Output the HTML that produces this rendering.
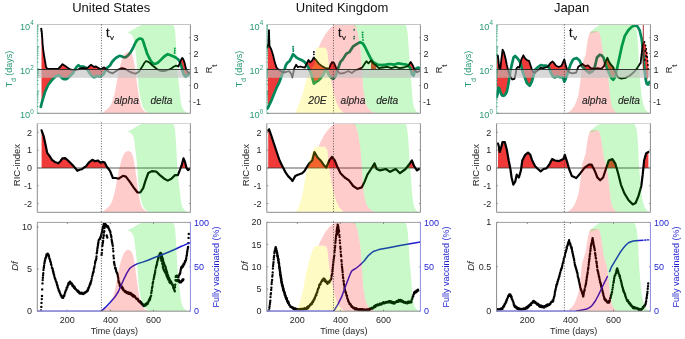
<!DOCTYPE html>
<html><head><meta charset="utf-8"><style>
html,body{margin:0;padding:0;background:#fff;}
svg{display:block;font-family:"Liberation Sans",sans-serif;}
</style></head><body>
<svg width="685" height="339" viewBox="0 0 685 339">
<defs><clipPath id="c00"><rect x="37.3" y="24.5" width="153.1" height="88.8"/></clipPath><clipPath id="c01"><rect x="37.3" y="123.5" width="153.1" height="88.8"/></clipPath><clipPath id="c02"><rect x="37.3" y="222.4" width="153.1" height="88.8"/></clipPath><clipPath id="ab0"><rect x="37.3" y="24.5" width="153.1" height="45.0"/></clipPath><clipPath id="be0"><rect x="37.3" y="69.5" width="153.1" height="43.8"/></clipPath><clipPath id="mab0"><rect x="37.3" y="123.5" width="153.1" height="44.5"/></clipPath><clipPath id="c10"><rect x="266.8" y="24.5" width="153.6" height="88.8"/></clipPath><clipPath id="c11"><rect x="266.8" y="123.5" width="153.6" height="88.8"/></clipPath><clipPath id="c12"><rect x="266.8" y="222.4" width="153.6" height="88.8"/></clipPath><clipPath id="ab1"><rect x="266.8" y="24.5" width="153.6" height="45.0"/></clipPath><clipPath id="be1"><rect x="266.8" y="69.5" width="153.6" height="43.8"/></clipPath><clipPath id="mab1"><rect x="266.8" y="123.5" width="153.6" height="44.5"/></clipPath><clipPath id="c20"><rect x="496.6" y="24.5" width="153.8" height="88.8"/></clipPath><clipPath id="c21"><rect x="496.6" y="123.5" width="153.8" height="88.8"/></clipPath><clipPath id="c22"><rect x="496.6" y="222.4" width="153.8" height="88.8"/></clipPath><clipPath id="ab2"><rect x="496.6" y="24.5" width="153.8" height="45.0"/></clipPath><clipPath id="be2"><rect x="496.6" y="69.5" width="153.8" height="43.8"/></clipPath><clipPath id="mab2"><rect x="496.6" y="123.5" width="153.8" height="44.5"/></clipPath><clipPath id="bb0"><polygon points="41.3,118.3 41.3,28.6 41.8,33.0 42.3,38.0 42.6,44.0 43.5,52.0 44.3,57.0 45.2,62.0 46.0,66.8 47.2,68.7 50.0,68.8 54.0,68.8 58.4,68.6 60.5,66.5 62.5,64.2 64.5,65.5 67.3,67.4 70.2,69.4 73.0,70.2 76.0,70.0 78.0,69.5 80.0,68.5 83.0,68.0 85.5,68.6 88.0,67.5 90.9,64.8 93.8,66.8 96.0,66.5 98.5,68.0 100.5,69.4 102.0,68.6 103.8,67.4 105.0,68.0 106.2,69.7 109.2,72.1 112.7,73.3 115.5,71.4 118.5,69.5 121.8,68.2 125.3,68.9 129.4,71.6 132.5,72.8 135.7,73.7 139.1,71.6 141.0,68.5 142.6,66.1 144.3,63.0 146.0,61.2 148.0,61.7 150.0,63.0 152.5,65.5 154.4,67.0 157.1,69.2 159.5,70.5 161.8,71.0 164.0,71.0 166.5,70.5 169.0,69.5 171.2,68.5 173.6,66.8 176.0,65.6 178.3,66.5 179.3,64.5 180.1,62.4 181.2,59.5 182.2,58.0 183.0,58.6 184.0,61.0 184.8,63.6 186.0,68.9 187.2,71.0 188.5,73.0 189.5,72.5 189.5,118.3"/></clipPath><clipPath id="xr0"><rect x="41.3" y="0" width="148.2" height="339"/></clipPath><clipPath id="bb1"><polygon points="267.4,118.3 267.4,47.5 268.3,44.0 268.9,30.3 269.2,38.0 269.5,46.0 271.3,49.4 273.1,55.3 274.8,62.4 276.6,67.7 277.9,68.9 280.0,70.5 283.4,72.5 286.0,72.0 289.0,71.2 291.0,73.5 292.4,77.4 293.5,72.0 294.3,68.3 296.1,64.8 297.8,67.1 300.2,66.5 302.6,67.1 304.9,67.7 306.7,63.6 308.5,60.0 310.2,62.4 312.0,60.6 313.2,58.5 313.9,57.5 315.0,59.0 316.0,60.0 318.8,63.6 322.3,66.4 325.0,67.8 327.0,68.3 329.2,68.5 330.5,65.0 332.0,62.2 334.0,62.9 336.1,67.8 337.5,71.0 340.0,73.7 344.2,73.0 348.3,71.0 351.8,73.0 355.3,70.3 359.4,68.9 362.2,67.5 364.5,64.0 366.4,61.2 368.4,63.3 371.2,60.5 373.3,63.3 376.1,65.4 378.8,68.2 383.0,67.5 387.2,66.8 391.3,68.2 395.5,66.8 399.6,68.2 403.8,67.5 408.0,66.1 410.7,61.9 412.8,65.4 414.9,70.3 417.0,72.3 419.5,71.0 419.5,118.3"/></clipPath><clipPath id="xr1"><rect x="267.4" y="0" width="152.10000000000002" height="339"/></clipPath><clipPath id="bb2"><polygon points="496.8,118.3 496.8,55.3 497.8,55.3 498.3,59.4 499.2,67.7 500.3,69.1 501.2,60.8 502.6,49.7 504.0,52.5 505.4,58.0 506.8,65.0 508.2,70.5 510.3,76.1 512.3,79.5 514.4,78.8 515.8,73.3 516.5,68.4 517.9,67.0 519.3,67.7 521.4,59.4 523.4,55.3 524.8,58.0 526.9,60.1 529.0,60.8 530.4,65.0 531.8,69.1 533.1,71.9 535.2,72.6 536.6,71.2 538.7,69.8 540.8,67.7 542.8,68.4 544.9,67.7 547.7,67.0 550.5,62.9 552.6,61.5 553.9,62.9 556.0,65.7 558.8,67.0 561.6,65.7 563.7,60.8 564.3,59.4 565.7,65.0 567.1,69.8 569.9,72.6 572.7,73.3 576.1,72.6 578.3,66.8 582.5,64.0 585.3,66.1 588.0,65.4 590.8,68.2 594.3,68.9 597.7,68.2 601.2,68.9 604.0,66.1 606.1,60.5 607.4,57.8 608.8,61.2 610.9,64.7 613.0,66.8 615.1,71.6 617.8,77.2 621.3,78.6 625.5,77.9 629.6,75.8 633.8,72.3 636.6,68.9 639.3,64.7 640.6,63.2 641.5,55.0 642.5,47.0 643.5,43.0 643.5,118.3"/></clipPath><clipPath id="xr2"><rect x="496.8" y="0" width="146.7" height="339"/></clipPath></defs>
<rect width="685" height="339" fill="#fff"/>
<g clip-path="url(#c00)">
<g clip-path="url(#xr0)"><polygon clip-path="url(#bb0)" points="40.8,19.5 40.8,106.9 42.0,102.0 43.5,97.1 45.0,92.0 46.9,87.6 48.5,84.5 50.3,82.2 52.0,80.0 53.7,78.1 56.0,76.2 58.4,75.2 60.5,76.5 62.5,78.4 64.3,79.2 65.9,79.2 67.5,78.3 69.3,76.8 71.5,74.5 73.3,72.7 74.5,70.0 76.7,66.8 78.5,65.2 80.0,66.5 83.2,66.5 85.6,67.5 87.9,70.3 89.5,73.0 91.5,75.6 93.7,77.1 95.5,76.8 97.4,75.8 99.0,76.5 100.3,76.8 101.5,75.8 103.3,74.5 105.6,70.3 107.5,67.5 110.0,65.5 112.0,62.0 114.2,59.5 116.5,57.5 119.5,55.8 122.0,56.5 124.0,57.3 125.9,57.1 128.0,55.5 130.6,52.4 133.0,48.0 135.3,43.0 137.0,40.3 138.9,38.8 140.5,38.5 142.4,39.4 143.6,42.5 144.8,46.5 146.0,50.0 147.1,53.6 149.0,57.5 150.7,60.7 152.5,62.8 154.2,63.9 156.0,63.6 157.8,62.8 160.6,60.1 164.2,56.5 167.7,54.2 170.6,55.3 173.6,56.5 176.0,57.7 178.3,59.5 180.1,62.4 181.5,66.5 182.5,70.7 184.0,75.0 185.5,76.5 187.8,75.0 189.5,73.5 189.5,19.5" fill="#f03a3a"/></g>
<polyline points="40.8,106.9 42.0,102.0 43.5,97.1 45.0,92.0 46.9,87.6 48.5,84.5 50.3,82.2 52.0,80.0 53.7,78.1 56.0,76.2 58.4,75.2 60.5,76.5 62.5,78.4 64.3,79.2 65.9,79.2 67.5,78.3 69.3,76.8 71.5,74.5 73.3,72.7 74.5,70.0 76.7,66.8 78.5,65.2 80.0,66.5 83.2,66.5 85.6,67.5 87.9,70.3 89.5,73.0 91.5,75.6 93.7,77.1 95.5,76.8 97.4,75.8 99.0,76.5 100.3,76.8 101.5,75.8 103.3,74.5 105.6,70.3 107.5,67.5 110.0,65.5 112.0,62.0 114.2,59.5 116.5,57.5 119.5,55.8 122.0,56.5 124.0,57.3 125.9,57.1 128.0,55.5 130.6,52.4 133.0,48.0 135.3,43.0 137.0,40.3 138.9,38.8 140.5,38.5 142.4,39.4 143.6,42.5 144.8,46.5 146.0,50.0 147.1,53.6 149.0,57.5 150.7,60.7 152.5,62.8 154.2,63.9 156.0,63.6 157.8,62.8 160.6,60.1 164.2,56.5 167.7,54.2 170.6,55.3 173.6,56.5 176.0,57.7 178.3,59.5 180.1,62.4 181.5,66.5 182.5,70.7 184.0,75.0 185.5,76.5 187.8,75.0 189.5,73.5" fill="none" stroke="#00885a" stroke-width="2.7" stroke-linejoin="round" stroke-linecap="round" />
<path d="M174.8 48.5h0M174.8 50.8h0M174.6 53.0h0" stroke="#00885a" stroke-width="1.9" stroke-linecap="round"/>
<polyline points="41.3,28.6 41.8,33.0 42.3,38.0 42.6,44.0 43.5,52.0 44.3,57.0 45.2,62.0 46.0,66.8 47.2,68.7 50.0,68.8 54.0,68.8 58.4,68.6 60.5,66.5 62.5,64.2 64.5,65.5 67.3,67.4 70.2,69.4 73.0,70.2 76.0,70.0 78.0,69.5 80.0,68.5 83.0,68.0 85.5,68.6 88.0,67.5 90.9,64.8 93.8,66.8 96.0,66.5 98.5,68.0 100.5,69.4 102.0,68.6 103.8,67.4 105.0,68.0 106.2,69.7 109.2,72.1 112.7,73.3 115.5,71.4 118.5,69.5 121.8,68.2 125.3,68.9 129.4,71.6 132.5,72.8 135.7,73.7 139.1,71.6 141.0,68.5 142.6,66.1 144.3,63.0 146.0,61.2 148.0,61.7 150.0,63.0 152.5,65.5 154.4,67.0 157.1,69.2 159.5,70.5 161.8,71.0 164.0,71.0 166.5,70.5 169.0,69.5 171.2,68.5 173.6,66.8 176.0,65.6 178.3,66.5 179.3,64.5 180.1,62.4 181.2,59.5 182.2,58.0 183.0,58.6 184.0,61.0 184.8,63.6 186.0,68.9 187.2,71.0 188.5,73.0 189.5,72.5" fill="none" stroke="#000" stroke-width="1.8" stroke-linejoin="round" stroke-linecap="round" />
<path d="M41.3 28.8h0M41.5 31.0h0M41.7 33.5h0M41.9 36.0h0" stroke="#000" stroke-width="1.8" stroke-linecap="round"/>
<polygon points="101.0,113.3 102.0,112.9 106.0,110.2 110.1,106.2 112.3,101.8 114.1,95.5 115.5,89.3 116.8,81.9 118.2,75.1 119.5,68.5 121.0,62.7 122.2,59.1 123.5,56.0 124.8,53.8 126.5,52.4 128.1,51.9 130.0,52.5 131.6,53.8 133.0,57.4 134.2,63.1 135.2,69.8 136.1,76.5 137.2,84.9 138.3,92.5 139.6,100.0 141.0,106.2 143.0,109.7 145.0,111.5 148.0,112.9 151.0,113.3" fill="#ff0000" fill-opacity="0.2"/>
<polygon points="127.5,32.5 130.0,31.2 132.9,29.8 136.9,27.2 141.0,25.2 144.0,24.5 172.8,24.5 174.7,28.1 175.3,33.4 175.9,42.3 176.5,52.9 177.0,62.7 177.5,71.6 178.3,79.6 179.1,86.7 179.8,92.0 180.6,100.0 181.6,105.3 182.6,108.4 184.0,110.6 185.6,112.1 188.0,113.3 151.0,113.3 148.0,112.9 146.5,111.5 144.5,109.7 142.5,106.2 140.8,100.0 139.5,92.9 138.5,84.9 137.8,76.5 137.2,68.0 136.2,57.4 135.2,49.4 134.0,39.6 132.4,35.6 130.0,33.4" fill="#00e000" fill-opacity="0.21"/>
<rect x="37.3" y="69.5" width="153.1" height="8.3" fill="#c0c0c0" fill-opacity="0.62"/>
<line x1="37.3" y1="69.5" x2="190.39999999999998" y2="69.5" stroke="#222" stroke-width="0.9"/>
</g>
<g clip-path="url(#c01)">
<polygon clip-path="url(#mab0)" points="41.6,168.0 41.6,130.4 43.7,136.3 45.8,146.0 47.2,152.9 49.3,155.7 52.0,159.8 54.8,161.9 58.3,163.3 60.4,161.2 62.4,158.4 65.2,158.2 68.0,160.5 70.8,163.3 73.5,166.1 75.6,168.5 77.4,170.8 79.5,169.8 81.7,169.3 84.0,167.5 86.0,166.4 88.8,162.6 92.3,159.8 95.0,161.2 97.8,160.5 100.6,162.6 102.7,161.9 104.7,162.6 106.8,166.8 109.0,169.5 110.0,170.8 112.9,178.0 115.8,178.0 118.7,178.7 123.0,175.8 125.9,176.6 130.2,182.3 134.6,188.8 137.5,192.5 140.3,192.5 143.2,188.1 145.4,180.9 148.3,173.0 151.9,171.1 156.2,171.5 159.9,175.1 164.2,178.7 167.8,180.6 171.4,178.7 175.0,175.1 177.9,175.1 180.1,169.3 181.5,165.7 183.5,158.4 185.0,162.0 186.5,168.0 188.0,170.0 189.5,169.0 189.5,168.0" fill="#f03a3a"/>
<line x1="37.3" y1="168.0" x2="190.39999999999998" y2="168.0" stroke="#333" stroke-width="0.8"/>
<polyline points="41.6,130.4 43.7,136.3 45.8,146.0 47.2,152.9 49.3,155.7 52.0,159.8 54.8,161.9 58.3,163.3 60.4,161.2 62.4,158.4 65.2,158.2 68.0,160.5 70.8,163.3 73.5,166.1 75.6,168.5 77.4,170.8 79.5,169.8 81.7,169.3 84.0,167.5 86.0,166.4 88.8,162.6 92.3,159.8 95.0,161.2 97.8,160.5 100.6,162.6 102.7,161.9 104.7,162.6 106.8,166.8 109.0,169.5 110.0,170.8 112.9,178.0 115.8,178.0 118.7,178.7 123.0,175.8 125.9,176.6 130.2,182.3 134.6,188.8 137.5,192.5 140.3,192.5 143.2,188.1 145.4,180.9 148.3,173.0 151.9,171.1 156.2,171.5 159.9,175.1 164.2,178.7 167.8,180.6 171.4,178.7 175.0,175.1 177.9,175.1 180.1,169.3 181.5,165.7 183.5,158.4 185.0,162.0 186.5,168.0 188.0,170.0 189.5,169.0" fill="none" stroke="#000" stroke-width="2.2" stroke-linejoin="round" stroke-linecap="round" />
<polygon points="101.0,212.3 102.0,211.9 106.0,209.2 110.1,205.2 112.3,200.8 114.1,194.5 115.5,188.3 116.8,180.9 118.2,174.1 119.5,167.5 121.0,161.7 122.2,158.1 123.5,155.0 124.8,152.8 126.5,151.4 128.1,150.9 130.0,151.5 131.6,152.8 133.0,156.4 134.2,162.1 135.2,168.8 136.1,175.5 137.2,183.9 138.3,191.5 139.6,199.0 141.0,205.2 143.0,208.7 145.0,210.5 148.0,211.9 151.0,212.3" fill="#ff0000" fill-opacity="0.2"/>
<polygon points="127.5,131.5 130.0,130.2 132.9,128.8 136.9,126.2 141.0,124.2 144.0,123.5 172.8,123.5 174.7,127.1 175.3,132.4 175.9,141.3 176.5,151.9 177.0,161.7 177.5,170.6 178.3,178.6 179.1,185.7 179.8,191.0 180.6,199.0 181.6,204.3 182.6,207.4 184.0,209.6 185.6,211.1 188.0,212.3 151.0,212.3 148.0,211.9 146.5,210.5 144.5,208.7 142.5,205.2 140.8,199.0 139.5,191.9 138.5,183.9 137.8,175.5 137.2,167.0 136.2,156.4 135.2,148.4 134.0,138.6 132.4,134.6 130.0,132.4" fill="#00e000" fill-opacity="0.21"/>
</g>
<g clip-path="url(#c02)">
<path d="M41.1 310.5h0M41.3 306.9h0M41.5 302.9h0M41.8 299.1h0M42.0 296.0h0M42.2 289.4h0M42.5 283.4h0M42.7 280.1h0M42.9 277.8h0M43.1 275.3h0M43.3 273.2h0M43.5 270.0h0M43.7 268.1h0M43.9 267.2h0M44.1 265.4h0M44.4 263.3h0M44.6 262.7h0M44.8 261.2h0M45.0 260.3h0M45.2 259.7h0M45.4 258.2h0M45.9 257.7h0M46.1 256.7h0M46.3 255.6h0M46.5 254.4h0M46.9 254.6h0M47.6 253.6h0M47.8 254.6h0M48.1 254.2h0M48.3 255.5h0M48.8 255.3h0M49.0 256.8h0M49.4 258.5h0M49.7 259.0h0M50.1 260.3h0M50.3 261.6h0M50.8 262.3h0M51.0 263.9h0M51.4 265.1h0M51.9 267.4h0M52.1 268.0h0M52.6 268.7h0M52.8 269.9h0M53.0 271.0h0M53.2 272.4h0M53.4 272.0h0M53.7 273.4h0M53.9 274.5h0M54.1 275.0h0M54.3 276.2h0M54.8 278.0h0M55.2 279.0h0M55.4 279.5h0M55.6 280.3h0M56.0 281.6h0M56.5 282.3h0M56.7 282.9h0M56.9 284.2h0M57.1 284.9h0M57.5 285.4h0M57.7 287.0h0M57.9 287.8h0M58.2 288.5h0M58.4 289.0h0M58.6 289.8h0M58.8 290.4h0M59.3 290.9h0M59.5 292.0h0M59.9 293.1h0M60.2 293.7h0M60.4 294.2h0M60.8 295.2h0M61.3 295.4h0M61.5 296.2h0M61.7 297.1h0M62.1 297.4h0M62.4 296.7h0M62.6 297.8h0M63.2 297.8h0M63.4 296.5h0M63.9 295.6h0M64.3 295.8h0M64.5 294.7h0M64.9 293.1h0M65.2 292.5h0M65.6 291.0h0M66.3 289.7h0M66.5 289.3h0M66.7 287.7h0M67.2 287.5h0M67.4 286.9h0M67.6 286.1h0M67.8 285.5h0M68.3 283.9h0M68.5 283.3h0M68.7 284.4h0M69.0 282.9h0M69.2 282.5h0M69.7 283.0h0M70.1 281.7h0M70.3 282.5h0M70.7 282.8h0M71.2 283.8h0M71.6 283.6h0M71.8 284.3h0M72.0 283.8h0M72.4 285.8h0M72.7 284.9h0M72.9 285.4h0M73.1 286.2h0M73.3 286.7h0M73.6 287.1h0M73.8 286.2h0M74.0 287.3h0M74.2 287.9h0M74.4 286.8h0M74.6 288.0h0M74.8 288.5h0M75.0 288.0h0M75.5 288.9h0M76.1 289.5h0M76.5 290.1h0M77.1 290.4h0M77.4 291.3h0M77.6 290.6h0M77.8 291.2h0M78.0 290.6h0M78.2 291.9h0M78.4 291.5h0M78.9 291.8h0M79.3 293.2h0M79.5 292.4h0M80.0 292.6h0M80.2 293.5h0M80.6 293.2h0M81.1 293.1h0M81.5 293.6h0M81.8 292.8h0M82.2 293.5h0M82.6 293.8h0M82.8 293.4h0M83.1 294.0h0M83.3 293.5h0M83.7 293.2h0M83.9 293.6h0M84.1 293.1h0M84.6 292.4h0M84.8 293.0h0M85.2 292.3h0M85.8 292.3h0M86.5 291.5h0M86.7 291.1h0M87.1 291.4h0M87.5 291.0h0M87.7 289.5h0M87.9 290.2h0M88.2 289.2h0M88.4 287.9h0M88.6 288.3h0M89.1 286.9h0M89.5 285.7h0M89.7 285.0h0M90.1 283.5h0M90.4 284.2h0M90.6 283.2h0M90.8 282.0h0M91.0 281.4h0M91.4 280.6h0M91.7 278.8h0M92.1 276.6h0M92.6 275.1h0M92.8 273.7h0M93.0 273.0h0M93.2 272.3h0M93.5 271.9h0M93.7 271.0h0M93.9 269.0h0M94.1 268.5h0M94.3 267.6h0M94.6 266.1h0M95.0 263.8h0M95.2 262.3h0M95.4 261.3h0M95.9 259.9h0M96.1 259.4h0M96.3 258.4h0M96.5 256.4h0M96.7 253.3h0M97.0 252.4h0M97.2 250.5h0M97.4 248.5h0M97.6 247.4h0M97.8 246.5h0M98.0 245.0h0M98.2 243.4h0M98.4 242.4h0M98.6 240.8h0M99.0 239.6h0M99.5 239.2h0M99.9 239.0h0M100.1 238.0h0M100.6 236.7h0M101.0 237.2h0M101.2 235.3h0M101.4 234.5h0M101.6 233.8h0M101.9 232.5h0M102.1 231.8h0M102.3 230.5h0M102.5 229.3h0M102.7 228.6h0M102.9 228.2h0M103.1 226.6h0M103.4 226.1h0M103.6 225.1h0M103.8 224.3h0M104.0 222.9h0M104.2 224.3h0M104.4 223.8h0M104.6 224.5h0M105.1 224.0h0M105.5 224.8h0M105.9 224.6h0M106.1 225.5h0M106.3 225.9h0M107.0 225.8h0M107.2 226.9h0M107.6 225.9h0M108.0 227.4h0M108.2 226.8h0M108.7 228.1h0M108.9 228.8h0M109.3 229.6h0M109.5 230.2h0M109.7 230.8h0M110.2 231.2h0M110.4 232.5h0M110.8 234.6h0M111.0 235.2h0M111.2 236.3h0M111.4 237.1h0M111.6 239.4h0M111.8 240.4h0M112.0 241.9h0M112.2 242.4h0M112.4 243.9h0M112.8 245.8h0M113.0 248.6h0M113.3 251.3h0M113.5 255.7h0M113.8 258.3h0M114.0 262.0h0M114.2 263.0h0M114.4 264.2h0M114.7 265.4h0M115.1 267.9h0M115.3 268.6h0M115.5 267.9h0M115.8 269.0h0M116.0 270.0h0M116.2 270.9h0M116.6 272.3h0M117.1 272.9h0M117.3 273.6h0M117.5 274.5h0M117.7 274.9h0M117.9 276.7h0M118.1 277.3h0M118.3 278.7h0M118.5 280.8h0M118.7 281.9h0M118.9 282.5h0M119.1 282.1h0M119.3 283.0h0M119.6 283.9h0M119.8 285.4h0M120.0 286.2h0M120.6 286.6h0M120.8 285.7h0M121.2 287.3h0M121.4 286.3h0M121.6 286.8h0M122.1 287.0h0M122.3 288.5h0M122.5 288.0h0M122.9 288.2h0M123.1 289.3h0M123.3 290.0h0M123.5 289.5h0M123.8 290.4h0M124.4 290.8h0M124.6 291.3h0M125.0 291.8h0M125.4 292.0h0M125.7 291.1h0M125.9 291.7h0M126.3 292.4h0M126.7 292.7h0M126.9 292.2h0M127.2 292.7h0M127.4 293.2h0M128.0 292.4h0M128.4 293.2h0M128.9 292.6h0M129.1 293.9h0M129.5 293.2h0M129.9 294.0h0M130.2 292.9h0M130.4 293.9h0M130.6 293.1h0M130.8 293.5h0M131.0 294.5h0M131.2 293.5h0M131.7 294.4h0M132.1 295.4h0M132.7 294.8h0M132.9 296.2h0M133.1 295.5h0M133.4 295.9h0M133.8 295.4h0M134.0 296.2h0M134.4 295.9h0M134.6 296.9h0M135.1 296.5h0M135.3 297.3h0M135.9 298.1h0M136.3 298.7h0M136.7 298.5h0M137.0 298.9h0M137.4 298.6h0M137.6 299.6h0M138.0 300.2h0M138.2 299.4h0M138.4 300.8h0M138.8 301.2h0M139.5 301.7h0M139.9 302.0h0M140.1 301.3h0M140.3 302.4h0M140.7 302.8h0M141.2 303.3h0M141.4 302.4h0M141.8 304.1h0M142.0 303.7h0M142.2 304.5h0M142.8 304.7h0M143.3 304.4h0M143.5 305.7h0M143.9 306.0h0M144.3 305.3h0M144.8 304.6h0M145.2 305.0h0M145.4 305.5h0M145.8 304.5h0M146.1 303.9h0M146.3 304.8h0M146.7 303.3h0M147.2 303.8h0M147.4 302.6h0M147.6 303.7h0M148.1 302.8h0M148.3 301.6h0M148.7 301.3h0M148.9 300.3h0M149.4 299.3h0M149.6 300.3h0M149.8 299.5h0M150.0 297.9h0M150.2 298.7h0M150.5 297.1h0M150.7 296.6h0M151.1 295.7h0M151.3 292.9h0M151.6 291.2h0M151.8 290.2h0M152.0 288.1h0M152.2 287.5h0M152.5 286.3h0M152.7 283.7h0M152.9 282.5h0M153.1 281.8h0M153.6 279.2h0M154.0 277.4h0M154.2 276.5h0M154.4 275.1h0M154.8 273.9h0M155.1 272.3h0M155.3 270.5h0M155.8 268.1h0M156.0 267.7h0M156.2 266.0h0M156.6 265.4h0M156.9 264.3h0M157.1 262.7h0M157.3 261.7h0M157.8 260.1h0M158.0 259.4h0M158.2 258.2h0M158.4 257.6h0M158.6 256.8h0M158.8 256.2h0M159.1 255.5h0M159.5 254.9h0M159.9 253.5h0M160.3 254.0h0M160.6 253.0h0M161.0 253.1h0M161.2 254.8h0M161.5 254.2h0M161.7 255.5h0M161.9 256.3h0M162.2 257.6h0M162.6 258.3h0M162.8 259.2h0M163.1 260.2h0M163.3 261.7h0M163.5 262.2h0M164.0 263.3h0M164.2 264.3h0M164.4 265.0h0M164.8 265.5h0M165.1 266.6h0M165.5 266.8h0M165.7 267.7h0M165.9 269.0h0M166.3 270.0h0M166.6 271.2h0M166.8 271.8h0M167.0 272.3h0M167.2 272.9h0M167.5 274.8h0M167.7 275.6h0M167.9 275.1h0M168.1 276.0h0M168.4 277.1h0M168.8 277.7h0M169.3 278.8h0M169.7 279.6h0M169.9 280.2h0M170.3 281.1h0M170.8 282.3h0M171.0 281.5h0M171.2 283.1h0M171.4 282.2h0M171.6 283.0h0M171.9 283.9h0M172.1 284.4h0M172.6 284.5h0M172.8 285.2h0M173.0 285.7h0M173.2 287.0h0M173.4 287.9h0M173.9 288.0h0M174.1 289.8h0M174.6 290.4h0M174.8 291.3h0M175.0 287.3h0M175.2 284.8h0M175.5 280.1h0M175.7 276.9h0M175.9 276.3h0M176.3 275.9h0M176.7 275.7h0M177.2 276.3h0M177.6 276.9h0M178.1 276.7h0M178.5 276.9h0M178.8 275.8h0M179.2 275.2h0M179.7 274.0h0M180.1 273.4h0M180.3 272.2h0M180.6 270.8h0M180.8 269.6h0M181.0 268.6h0M181.2 267.8h0M181.6 267.0h0M182.1 267.5h0M182.3 266.3h0M182.5 266.9h0M182.7 265.8h0M183.1 266.2h0M183.4 264.5h0M183.8 263.7h0M184.1 264.5h0M184.3 263.7h0M184.7 262.8h0M184.9 261.4h0M185.2 261.0h0M185.4 261.4h0M185.9 260.0h0M186.1 258.9h0M186.3 258.0h0M186.5 256.0h0M186.8 255.4h0M187.0 253.4h0M187.2 251.8h0M187.4 251.0h0M187.6 249.5h0M187.9 247.9h0M188.1 247.0h0M188.3 243.1h0M188.6 237.9h0M188.8 233.9h0" stroke="#000" stroke-width="2.4" stroke-linecap="round" fill="none"/>
<path d="M101.6 254.9h0M101.8 253.0h0M102.1 249.9h0M102.3 246.1h0M102.5 245.0h0M102.7 243.5h0M102.9 242.3h0M103.1 241.0h0M103.3 238.0h0M103.6 236.0h0M103.8 235.2h0M104.0 232.6h0M104.3 231.2h0M104.5 228.1h0M104.7 227.3h0M104.9 226.2h0M105.1 224.0h0" stroke="#000" stroke-width="2.4" stroke-linecap="round" fill="none"/>
<path d="M106.7 235.4h0M106.9 236.5h0M107.3 237.5h0" stroke="#000" stroke-width="2.4" stroke-linecap="round" fill="none"/>
<path d="M160.6 257.3h0M160.8 258.5h0M161.1 258.9h0M161.3 260.0h0M161.5 260.8h0M162.0 261.3h0M162.2 263.6h0M162.7 264.8h0M162.9 266.9h0M163.3 268.8h0M163.7 269.4h0M164.2 270.3h0M164.4 271.1h0M164.8 271.8h0M165.2 271.6h0M165.5 273.1h0M165.9 273.3h0M166.3 275.1h0M166.7 275.8h0M166.9 276.6h0M167.4 277.6h0M167.8 278.3h0M168.2 279.5h0M168.6 279.2h0M168.8 279.7h0M169.1 280.3h0M169.3 281.8h0M169.7 282.2h0M170.2 283.0h0" stroke="#000" stroke-width="2.4" stroke-linecap="round" fill="none"/>
<path d="M176.0 280.6h0M176.6 280.2h0M177.0 280.4h0M177.3 281.1h0M177.7 280.7h0M177.9 279.8h0M178.5 279.8h0M178.9 280.5h0M179.2 281.9h0M179.6 282.3h0M180.0 282.0h0M180.4 282.4h0M181.1 282.2h0M181.3 280.9h0M181.6 281.5h0M182.0 281.0h0M182.2 280.2h0M182.7 279.5h0M182.9 280.5h0M183.1 280.1h0M183.4 279.4h0" stroke="#000" stroke-width="2.4" stroke-linecap="round" fill="none"/>
<polyline points="100.8,311.1 103.0,309.6 105.4,307.4 110.1,302.5 114.7,297.3 118.4,291.5 121.2,285.3 124.0,278.8 126.8,273.2 129.6,268.6 131.5,267.0 133.3,265.8 137.0,263.9 142.6,262.1 148.0,260.2 154.5,257.5 160.0,255.5 165.1,253.5 170.0,251.5 175.7,249.0 180.9,246.5 183.7,245.4 187.6,243.6 190.4,242.8" fill="none" stroke="#1f1fd0" stroke-width="1.5" stroke-linejoin="round" stroke-linecap="round" />
<polygon points="101.0,311.2 102.0,310.8 106.0,308.1 110.1,304.1 112.3,299.7 114.1,293.4 115.5,287.2 116.8,279.8 118.2,273.0 119.5,266.4 121.0,260.6 122.2,257.0 123.5,253.9 124.8,251.7 126.5,250.3 128.1,249.8 130.0,250.4 131.6,251.7 133.0,255.3 134.2,261.0 135.2,267.7 136.1,274.4 137.2,282.8 138.3,290.4 139.6,297.9 141.0,304.1 143.0,307.6 145.0,309.4 148.0,310.8 151.0,311.2" fill="#ff0000" fill-opacity="0.2"/>
<polygon points="127.5,230.4 130.0,229.1 132.9,227.7 136.9,225.1 141.0,223.1 144.0,222.4 172.8,222.4 174.7,226.0 175.3,231.3 175.9,240.2 176.5,250.8 177.0,260.6 177.5,269.5 178.3,277.5 179.1,284.6 179.8,289.9 180.6,297.9 181.6,303.2 182.6,306.3 184.0,308.5 185.6,310.0 188.0,311.2 151.0,311.2 148.0,310.8 146.5,309.4 144.5,307.6 142.5,304.1 140.8,297.9 139.5,290.8 138.5,282.8 137.8,274.4 137.2,265.9 136.2,255.3 135.2,247.3 134.0,237.5 132.4,233.5 130.0,231.3" fill="#00e000" fill-opacity="0.21"/>
</g>
<g clip-path="url(#c10)">
<g clip-path="url(#xr1)"><polygon clip-path="url(#bb1)" points="267.4,19.5 267.4,108.5 268.2,107.2 270.9,101.7 273.7,94.7 276.5,87.8 279.3,82.3 281.3,76.7 283.4,71.2 284.8,68.5 286.0,64.8 287.8,62.4 289.6,61.2 291.4,57.7 293.1,54.2 294.9,55.9 296.7,57.7 299.0,58.9 301.4,60.0 303.7,61.2 305.5,63.0 306.7,64.8 308.5,68.0 311.2,73.9 313.9,83.6 316.0,82.0 318.1,80.9 320.9,78.1 323.6,73.9 325.7,69.8 327.5,72.0 329.2,75.3 331.0,77.5 333.3,78.8 336.1,75.3 337.5,70.0 340.3,62.2 342.8,59.4 346.2,53.9 349.7,51.8 353.2,46.3 356.6,44.2 360.1,42.1 362.9,43.5 365.0,47.0 367.0,51.1 369.1,55.3 371.2,59.4 373.3,62.2 377.4,64.5 381.6,65.2 385.8,64.7 389.9,64.0 394.1,64.7 398.3,63.3 402.4,64.0 406.6,64.7 410.0,67.5 412.1,74.4 413.5,75.8 415.6,68.9 417.7,67.5 419.5,68.0 419.5,19.5" fill="#f03a3a"/></g>
<polygon points="371.0,60.5 371.8,59.7 373.5,63.3 375.3,63.3 376.2,67.7 376.5,69.2 371.0,69.2" fill="#f03a3a"/>
<polyline points="267.4,108.5 268.2,107.2 270.9,101.7 273.7,94.7 276.5,87.8 279.3,82.3 281.3,76.7 283.4,71.2 284.8,68.5 286.0,64.8 287.8,62.4 289.6,61.2 291.4,57.7 293.1,54.2 294.9,55.9 296.7,57.7 299.0,58.9 301.4,60.0 303.7,61.2 305.5,63.0 306.7,64.8 308.5,68.0 311.2,73.9 313.9,83.6 316.0,82.0 318.1,80.9 320.9,78.1 323.6,73.9 325.7,69.8 327.5,72.0 329.2,75.3 331.0,77.5 333.3,78.8 336.1,75.3 337.5,70.0 340.3,62.2 342.8,59.4 346.2,53.9 349.7,51.8 353.2,46.3 356.6,44.2 360.1,42.1 362.9,43.5 365.0,47.0 367.0,51.1 369.1,55.3 371.2,59.4 373.3,62.2 377.4,64.5 381.6,65.2 385.8,64.7 389.9,64.0 394.1,64.7 398.3,63.3 402.4,64.0 406.6,64.7 410.0,67.5 412.1,74.4 413.5,75.8 415.6,68.9 417.7,67.5 419.5,68.0" fill="none" stroke="#00885a" stroke-width="2.7" stroke-linejoin="round" stroke-linecap="round" />
<path d="M293.1 46.8h0M293.1 49.0h0M293.3 51.0h0M354.2 29.8h0M354.2 36.6h0M354.0 38.6h0M362.6 32.4h0M362.6 34.8h0M362.7 37.2h0M363.0 40.0h0" stroke="#00885a" stroke-width="1.9" stroke-linecap="round"/>
<polyline points="267.4,47.5 268.3,44.0 268.9,30.3 269.2,38.0 269.5,46.0 271.3,49.4 273.1,55.3 274.8,62.4 276.6,67.7 277.9,68.9 280.0,70.5 283.4,72.5 286.0,72.0 289.0,71.2 291.0,73.5 292.4,77.4 293.5,72.0 294.3,68.3 296.1,64.8 297.8,67.1 300.2,66.5 302.6,67.1 304.9,67.7 306.7,63.6 308.5,60.0 310.2,62.4 312.0,60.6 313.2,58.5 313.9,57.5 315.0,59.0 316.0,60.0 318.8,63.6 322.3,66.4 325.0,67.8 327.0,68.3 329.2,68.5 330.5,65.0 332.0,62.2 334.0,62.9 336.1,67.8 337.5,71.0 340.0,73.7 344.2,73.0 348.3,71.0 351.8,73.0 355.3,70.3 359.4,68.9 362.2,67.5 364.5,64.0 366.4,61.2 368.4,63.3 371.2,60.5 373.3,63.3 376.1,65.4 378.8,68.2 383.0,67.5 387.2,66.8 391.3,68.2 395.5,66.8 399.6,68.2 403.8,67.5 408.0,66.1 410.7,61.9 412.8,65.4 414.9,70.3 417.0,72.3 419.5,71.0" fill="none" stroke="#000" stroke-width="1.8" stroke-linejoin="round" stroke-linecap="round" />
<path d="M268.9 30.5h0M269.0 33.0h0M269.1 35.5h0M269.2 38.5h0M269.3 41.0h0M313.9 52.0h0M313.9 54.3h0" stroke="#000" stroke-width="1.8" stroke-linecap="round"/>
<polygon points="318.5,47.8 320.5,43.1 322.4,39.6 324.5,35.6 327.0,32.0 329.5,28.9 332.0,26.5 334.5,25.1 337.0,24.5 354.7,24.5 356.0,27.2 357.7,33.1 359.0,40.5 360.5,49.4 361.3,60.0 361.9,68.9 362.5,77.8 363.2,88.4 364.5,97.3 366.0,104.4 368.5,108.9 371.6,111.5 376.0,113.3 344.0,113.3 341.2,110.6 339.3,108.4 337.5,105.0 336.0,101.8 334.7,97.3 332.5,88.4 330.6,78.7 329.2,68.9 328.2,60.0 327.3,51.1 326.3,49.4 325.0,47.8" fill="#ff0000" fill-opacity="0.2"/>
<polygon points="294.5,113.3 296.0,111.1 299.3,103.5 301.5,97.3 303.7,90.2 305.5,83.1 307.0,77.8 309.0,72.5 312.0,68.0 314.5,64.5 315.1,57.4 315.7,51.1 316.5,48.0 317.0,47.6 325.0,47.6 326.3,49.4 327.3,51.1 328.2,60.0 329.2,68.9 330.6,78.7 332.5,88.4 334.7,97.3 336.0,101.8 337.5,105.0 339.3,108.4 341.2,110.6 344.0,113.3" fill="#ffee00" fill-opacity="0.23"/>
<polygon points="353.2,25.4 354.7,24.5 405.0,24.5 406.0,25.4 407.0,28.9 408.0,36.9 408.7,47.6 409.3,58.2 409.8,66.2 410.6,73.3 411.4,84.0 412.2,95.5 413.3,104.4 414.6,108.9 416.2,111.3 418.6,112.9 420.4,113.3 376.0,113.3 371.6,111.5 368.5,108.9 366.0,104.4 364.5,97.3 363.2,88.4 362.5,77.8 361.9,68.9 361.3,60.0 360.5,49.4 359.0,40.5 357.7,33.1 356.0,27.2" fill="#00e000" fill-opacity="0.21"/>
<rect x="266.8" y="69.5" width="153.6" height="8.3" fill="#c0c0c0" fill-opacity="0.62"/>
<line x1="266.8" y1="69.5" x2="420.4" y2="69.5" stroke="#222" stroke-width="0.9"/>
</g>
<g clip-path="url(#c11)">
<polygon clip-path="url(#mab1)" points="268.2,168.0 268.2,130.7 269.1,129.3 271.1,135.0 273.9,143.5 276.7,152.0 279.6,160.5 282.4,166.2 285.2,171.8 288.1,176.1 290.9,178.9 292.5,181.0 295.2,176.1 298.0,174.7 302.2,173.2 304.5,171.0 306.5,167.6 309.3,163.3 312.2,160.5 314.4,152.0 317.8,157.7 320.7,160.5 323.5,164.7 326.3,167.6 329.2,160.5 332.0,156.8 334.8,160.5 337.7,167.6 340.5,173.2 344.7,177.5 349.0,180.3 353.2,186.0 357.5,188.8 361.7,187.4 364.6,181.7 367.4,174.7 371.1,169.0 374.5,163.3 376.7,169.0 380.1,170.4 385.8,169.0 390.1,171.8 395.7,169.0 400.0,173.2 405.6,169.0 409.9,163.3 411.9,160.5 414.1,166.2 417.0,170.4 419.0,169.0 419.0,168.0" fill="#f03a3a"/>
<line x1="266.8" y1="168.0" x2="420.4" y2="168.0" stroke="#333" stroke-width="0.8"/>
<polyline points="268.2,130.7 269.1,129.3 271.1,135.0 273.9,143.5 276.7,152.0 279.6,160.5 282.4,166.2 285.2,171.8 288.1,176.1 290.9,178.9 292.5,181.0 295.2,176.1 298.0,174.7 302.2,173.2 304.5,171.0 306.5,167.6 309.3,163.3 312.2,160.5 314.4,152.0 317.8,157.7 320.7,160.5 323.5,164.7 326.3,167.6 329.2,160.5 332.0,156.8 334.8,160.5 337.7,167.6 340.5,173.2 344.7,177.5 349.0,180.3 353.2,186.0 357.5,188.8 361.7,187.4 364.6,181.7 367.4,174.7 371.1,169.0 374.5,163.3 376.7,169.0 380.1,170.4 385.8,169.0 390.1,171.8 395.7,169.0 400.0,173.2 405.6,169.0 409.9,163.3 411.9,160.5 414.1,166.2 417.0,170.4 419.0,169.0" fill="none" stroke="#000" stroke-width="2.2" stroke-linejoin="round" stroke-linecap="round" />
<polygon points="318.5,146.8 320.5,142.1 322.4,138.6 324.5,134.6 327.0,131.0 329.5,127.9 332.0,125.5 334.5,124.1 337.0,123.5 354.7,123.5 356.0,126.2 357.7,132.1 359.0,139.5 360.5,148.4 361.3,159.0 361.9,167.9 362.5,176.8 363.2,187.4 364.5,196.3 366.0,203.4 368.5,207.9 371.6,210.5 376.0,212.3 344.0,212.3 341.2,209.6 339.3,207.4 337.5,204.0 336.0,200.8 334.7,196.3 332.5,187.4 330.6,177.7 329.2,167.9 328.2,159.0 327.3,150.1 326.3,148.4 325.0,146.8" fill="#ff0000" fill-opacity="0.2"/>
<polygon points="294.5,212.3 296.5,211.0 297.7,209.6 299.5,204.3 300.3,202.5 302.9,192.3 305.5,176.8 307.0,170.6 308.0,166.6 310.0,159.0 312.0,152.8 314.0,148.4 316.0,146.8 325.0,146.8 326.3,148.4 327.3,150.1 328.2,159.0 329.2,167.9 330.6,177.7 332.5,187.4 334.7,196.3 336.0,200.8 337.5,204.0 339.3,207.4 341.2,209.6 344.0,212.3" fill="#ffee00" fill-opacity="0.23"/>
<polygon points="353.2,124.4 354.7,123.5 405.0,123.5 406.0,124.4 407.0,127.9 408.0,135.9 408.7,146.6 409.3,157.2 409.8,165.2 410.6,172.3 411.4,183.0 412.2,194.5 413.3,203.4 414.6,207.9 416.2,210.3 418.6,211.9 420.4,212.3 376.0,212.3 371.6,210.5 368.5,207.9 366.0,203.4 364.5,196.3 363.2,187.4 362.5,176.8 361.9,167.9 361.3,159.0 360.5,148.4 359.0,139.5 357.7,132.1 356.0,126.2" fill="#00e000" fill-opacity="0.21"/>
</g>
<g clip-path="url(#c12)">
<path d="M268.8 310.5h0M269.0 311.0h0M269.2 310.4h0M269.4 307.7h0M269.6 306.1h0M269.9 304.1h0M270.1 302.5h0M270.3 300.7h0M270.5 297.1h0M270.7 294.4h0M271.0 293.1h0M271.2 289.9h0M271.4 287.8h0M271.6 284.1h0M271.8 282.1h0M272.1 279.9h0M272.3 276.6h0M272.5 275.1h0M272.7 272.4h0M272.9 268.5h0M273.1 265.9h0M273.3 264.1h0M273.5 262.2h0M273.7 259.4h0M273.9 257.2h0M274.2 255.6h0M274.4 253.0h0M274.6 251.4h0M274.8 250.8h0M275.0 250.1h0M275.3 248.8h0M275.5 248.0h0M275.7 247.1h0M275.9 248.1h0M276.1 248.5h0M276.6 250.6h0M277.0 252.3h0M277.2 252.9h0M277.4 255.4h0M277.6 256.5h0M278.0 258.2h0M278.2 260.1h0M278.5 261.4h0M278.7 263.1h0M278.9 263.6h0M279.1 265.9h0M279.3 267.4h0M279.6 268.6h0M279.8 270.7h0M280.0 272.9h0M280.2 274.5h0M280.4 275.7h0M280.7 277.6h0M280.9 278.5h0M281.1 280.5h0M281.3 282.2h0M281.7 283.0h0M281.9 284.4h0M282.1 285.5h0M282.4 286.3h0M282.6 286.7h0M282.8 287.7h0M283.0 288.7h0M283.2 289.9h0M283.6 290.6h0M283.9 291.4h0M284.3 292.0h0M284.5 293.6h0M284.7 294.7h0M285.2 295.1h0M285.6 296.4h0M285.8 297.7h0M286.2 298.1h0M286.4 299.1h0M286.7 298.7h0M286.9 299.7h0M287.1 300.9h0M287.5 301.2h0M287.9 302.1h0M288.1 303.1h0M288.4 302.0h0M288.6 303.5h0M288.8 303.9h0M289.0 304.4h0M289.4 305.0h0M289.8 305.4h0M290.5 306.9h0M290.9 306.4h0M291.1 307.0h0M291.8 307.2h0M292.0 307.6h0M292.4 308.0h0M292.9 307.4h0M293.1 307.8h0M293.5 308.6h0M293.7 309.1h0M294.4 309.2h0M294.6 308.5h0M294.8 309.4h0M295.2 308.4h0M295.9 309.6h0M296.1 308.9h0M296.5 309.6h0M296.9 309.0h0M297.4 309.8h0M297.6 309.3h0M298.0 310.3h0M298.2 309.9h0M298.8 309.2h0M299.1 309.7h0M299.5 309.3h0M299.9 310.4h0M300.1 309.8h0M300.3 309.3h0M300.5 309.8h0M300.9 308.9h0M301.6 309.9h0M301.8 309.0h0M302.0 309.8h0M302.4 309.5h0M302.6 309.0h0M302.9 310.1h0M303.3 309.3h0M303.5 308.8h0M303.7 309.4h0M303.9 309.0h0M304.4 308.8h0M304.6 309.2h0M304.8 308.3h0M305.2 309.6h0M305.6 308.6h0M305.9 309.4h0M306.1 308.5h0M306.3 309.4h0M306.7 308.4h0M306.9 307.9h0M307.1 307.3h0M307.4 308.4h0M307.6 307.0h0M307.8 307.9h0M308.2 307.1h0M308.4 306.3h0M308.7 307.2h0M309.1 306.5h0M309.3 306.0h0M309.5 305.6h0M310.0 304.9h0M310.2 305.3h0M310.4 304.7h0M310.6 304.2h0M311.1 304.4h0M311.3 303.6h0M311.8 303.2h0M312.0 303.8h0M312.4 301.9h0M312.8 301.5h0M313.0 302.1h0M313.2 301.4h0M313.5 300.4h0M313.7 299.8h0M314.3 299.6h0M314.5 298.3h0M314.9 297.9h0M315.1 297.2h0M315.6 295.9h0M316.0 294.8h0M316.4 295.1h0M316.6 293.3h0M317.1 292.4h0M317.3 292.0h0M317.6 290.6h0M317.8 289.8h0M318.0 289.0h0M318.5 288.2h0M319.0 287.2h0M319.2 285.5h0M319.6 284.6h0M319.8 284.1h0M320.2 284.5h0M320.5 284.0h0M320.9 282.6h0M321.5 281.5h0M322.0 280.7h0M322.2 280.1h0M322.6 280.7h0M322.8 279.9h0M323.3 279.1h0M323.5 278.6h0M323.7 279.5h0M324.1 278.8h0M324.3 280.0h0M324.6 279.3h0M325.0 280.9h0M325.2 279.9h0M325.4 280.4h0M325.6 281.7h0M325.8 281.1h0M326.4 281.5h0M326.6 282.5h0M326.9 281.7h0M327.1 283.2h0M327.3 282.6h0M327.5 283.7h0M327.9 282.7h0M328.6 281.9h0M328.8 282.6h0M329.0 281.5h0M329.4 282.4h0M329.7 281.1h0M330.1 280.8h0M330.4 280.3h0M330.6 279.6h0M331.1 279.1h0M331.3 278.2h0M331.5 276.0h0M331.8 275.2h0M332.2 273.6h0M332.4 271.2h0M332.6 269.6h0M332.8 267.8h0M333.0 265.4h0M333.2 264.1h0M333.4 261.9h0M333.6 259.9h0M333.9 257.9h0M334.1 256.3h0M334.3 255.5h0M334.5 252.3h0M334.8 250.1h0M335.0 247.7h0M335.2 245.7h0M335.4 242.8h0M335.6 240.7h0M335.8 238.7h0M336.0 236.7h0M336.2 235.5h0M336.4 234.1h0M336.6 231.7h0M336.8 230.3h0M337.0 229.1h0M337.2 227.8h0M337.5 226.5h0M337.7 224.7h0M337.9 225.3h0M338.2 226.6h0M338.4 227.4h0M338.6 229.5h0M338.9 230.2h0M339.1 231.6h0M339.3 235.0h0M339.6 237.1h0M339.8 240.4h0M340.0 243.1h0M340.3 246.7h0M340.5 248.7h0M340.7 251.8h0M340.9 254.8h0M341.2 256.2h0M341.4 260.1h0M341.6 261.5h0M341.8 264.5h0M342.0 267.0h0M342.2 268.8h0M342.4 270.2h0M342.6 272.0h0M342.8 274.7h0M343.0 277.2h0M343.2 278.0h0M343.5 280.8h0M343.7 281.5h0M343.9 284.0h0M344.3 285.8h0M344.5 288.0h0M344.7 289.3h0M344.9 290.1h0M345.1 290.8h0M345.3 291.3h0M345.5 292.0h0M346.0 293.0h0M346.4 294.9h0M346.6 295.5h0M347.0 296.0h0M347.2 298.1h0M347.5 298.6h0M347.9 299.6h0M348.1 300.7h0M348.6 301.4h0M348.8 302.1h0M349.0 302.6h0M349.4 303.8h0M349.9 304.2h0M350.1 303.7h0M350.3 304.4h0M350.7 304.6h0M350.9 305.1h0M351.2 306.2h0M351.8 306.7h0M352.0 306.3h0M352.5 307.1h0M352.9 307.6h0M353.4 308.0h0M353.8 307.6h0M354.0 308.2h0M354.5 308.1h0M354.7 308.6h0M355.1 309.4h0M355.6 308.5h0M355.8 309.1h0M356.0 308.3h0M356.4 309.0h0M356.7 309.6h0M356.9 308.6h0M357.1 309.5h0M357.5 308.9h0M357.8 309.6h0M358.2 309.2h0M358.4 309.7h0M359.1 310.0h0M359.5 310.3h0M359.7 309.7h0M359.9 309.2h0M360.4 309.3h0M360.6 309.9h0M361.0 309.2h0M361.3 310.2h0M361.7 309.8h0M362.1 309.5h0M362.3 310.3h0M362.6 309.3h0M362.8 310.7h0M363.2 310.2h0M363.4 309.7h0M363.6 310.6h0M364.1 309.5h0M364.3 310.4h0M364.7 310.2h0M365.1 309.9h0M365.4 310.6h0M365.8 309.8h0M366.0 310.5h0M366.2 309.9h0M366.4 309.5h0M367.1 310.6h0M367.5 309.4h0M367.7 310.2h0M368.2 309.4h0M368.6 309.6h0M368.8 310.4h0M369.0 309.1h0M369.5 309.5h0M369.7 308.8h0M369.9 309.6h0M370.6 308.6h0M371.0 308.8h0M371.2 308.3h0M371.6 308.0h0M371.9 308.5h0M372.5 308.6h0M372.7 307.8h0M373.1 308.0h0M373.6 307.3h0M373.8 306.9h0M374.2 306.2h0M374.4 307.2h0M374.6 306.0h0M374.8 306.8h0M375.1 306.4h0M375.3 306.9h0M375.5 306.5h0M375.9 305.3h0M376.1 305.7h0M376.5 305.3h0M377.2 305.4h0M377.4 304.5h0M377.6 305.1h0M378.0 304.7h0M378.4 305.3h0M378.9 304.7h0M379.3 304.4h0M379.7 303.7h0M380.2 304.4h0M380.6 304.5h0M380.8 304.0h0M381.0 304.6h0M381.2 303.7h0M381.5 304.2h0M381.7 303.4h0M381.9 303.8h0M382.3 303.0h0M382.8 303.3h0M383.2 302.7h0M383.4 302.1h0M383.6 302.7h0M384.3 303.2h0M384.5 302.7h0M384.9 303.1h0M385.4 302.4h0M386.0 302.5h0M386.4 302.0h0M386.9 302.2h0M387.1 302.6h0M387.5 302.4h0M388.0 302.2h0M388.4 301.4h0M388.8 302.0h0M389.3 301.8h0M389.5 301.3h0M389.7 302.4h0M389.9 301.9h0M390.4 301.3h0M390.6 302.1h0M390.8 302.5h0M391.1 302.1h0M391.5 302.5h0M391.7 301.6h0M391.9 302.4h0M392.1 303.1h0M392.6 302.4h0M392.8 302.9h0M393.2 302.3h0M393.7 303.4h0M393.9 302.5h0M394.3 303.5h0M394.5 302.9h0M394.9 302.7h0M395.4 301.9h0M395.6 302.5h0M396.2 301.6h0M396.7 301.3h0M397.1 301.0h0M397.3 301.8h0M397.8 300.9h0M398.2 301.7h0M398.4 301.2h0M398.9 300.0h0M399.1 301.2h0M399.3 300.7h0M399.6 300.1h0M400.0 300.6h0M400.4 300.0h0M400.6 300.7h0M400.9 300.1h0M401.1 301.4h0M401.3 300.8h0M401.5 301.6h0M401.9 301.3h0M402.2 300.9h0M402.4 301.4h0M402.6 301.0h0M403.0 302.0h0M403.2 301.6h0M403.4 302.3h0M403.7 301.6h0M403.9 302.5h0M404.3 302.1h0M404.7 302.4h0M405.2 302.2h0M405.6 302.3h0M405.8 303.1h0M406.3 302.4h0M406.7 303.0h0M407.2 303.3h0M407.4 302.7h0M407.6 302.3h0M407.8 303.0h0M408.1 301.8h0M408.3 302.6h0M408.5 301.7h0M408.7 302.1h0M409.1 302.0h0M409.6 301.6h0M409.8 302.5h0M410.0 301.9h0M410.4 301.4h0M410.7 302.1h0M410.9 301.5h0M411.3 302.2h0M411.5 301.6h0M411.8 299.4h0M412.2 299.1h0M412.5 297.5h0M412.7 296.8h0M413.2 296.3h0M413.4 294.9h0M413.9 294.1h0M414.1 292.6h0M414.3 293.6h0M414.5 292.1h0M414.9 292.7h0M415.1 291.6h0M415.6 291.4h0M416.0 292.2h0M416.4 290.7h0M416.9 291.6h0M417.1 290.3h0M417.5 290.1h0M418.0 289.8h0M418.2 290.5h0" stroke="#000" stroke-width="2.4" stroke-linecap="round" fill="none"/>
<path d="M276.0 248.9h0M276.2 249.9h0M276.4 251.3h0M276.8 252.3h0M277.0 253.3h0M277.4 255.0h0M277.6 256.2h0M277.9 257.4h0M278.3 258.7h0M278.5 259.8h0M278.7 262.3h0M279.0 263.5h0M279.2 263.9h0M279.4 266.7h0M279.6 268.2h0M279.8 269.2h0M280.0 270.7h0M280.2 271.5h0M280.4 272.8h0M280.6 275.0h0M280.8 275.7h0M281.1 277.2h0M281.3 278.6h0M281.5 279.6h0M281.8 281.6h0M282.0 282.9h0M282.2 284.4h0M282.4 284.8h0M282.7 285.9h0M282.9 286.6h0M283.1 287.7h0M283.3 288.3h0M283.6 288.9h0M283.8 290.9h0M284.0 291.7h0M284.2 292.1h0M284.4 292.6h0M284.8 293.1h0M285.0 293.9h0M285.5 295.9h0M285.9 297.2h0M286.3 298.7h0M286.7 298.2h0M286.9 298.9h0M287.1 300.5h0M287.5 301.5h0M287.8 301.1h0M288.2 302.3h0M288.4 303.0h0" stroke="#000" stroke-width="2.4" stroke-linecap="round" fill="none"/>
<path d="M336.9 234.2h0M337.1 233.4h0M337.4 232.3h0M337.6 230.5h0M337.8 230.9h0M338.0 232.1h0M338.2 232.7h0" stroke="#000" stroke-width="2.4" stroke-linecap="round" fill="none"/>
<polyline points="333.5,311.1 334.5,309.9 336.0,307.5 338.0,304.2 341.4,297.4 344.8,288.3 348.2,279.2 350.0,274.5 351.6,271.2 353.3,269.8 355.0,269.0 359.5,265.5 364.1,261.0 368.6,255.3 373.2,251.5 378.9,249.6 384.5,248.5 390.0,247.4 400.0,245.5 410.0,243.8 420.4,242.0" fill="none" stroke="#1f1fd0" stroke-width="1.5" stroke-linejoin="round" stroke-linecap="round" />
<polygon points="318.5,245.7 320.5,241.0 322.4,237.5 324.5,233.5 327.0,229.9 329.5,226.8 332.0,224.4 334.5,223.0 337.0,222.4 354.7,222.4 356.0,225.1 357.7,231.0 359.0,238.4 360.5,247.3 361.3,257.9 361.9,266.8 362.5,275.7 363.2,286.3 364.5,295.2 366.0,302.3 368.5,306.8 371.6,309.4 376.0,311.2 344.0,311.2 341.2,308.5 339.3,306.3 337.5,302.9 336.0,299.7 334.7,295.2 332.5,286.3 330.6,276.6 329.2,266.8 328.2,257.9 327.3,249.0 326.3,247.3 325.0,245.7" fill="#ff0000" fill-opacity="0.2"/>
<polygon points="294.5,311.2 296.5,309.9 297.7,308.5 299.5,303.2 300.3,301.4 302.9,291.2 305.5,275.7 307.0,269.5 308.0,265.5 310.0,257.9 312.0,251.7 314.0,247.3 316.0,245.7 325.0,245.7 326.3,247.3 327.3,249.0 328.2,257.9 329.2,266.8 330.6,276.6 332.5,286.3 334.7,295.2 336.0,299.7 337.5,302.9 339.3,306.3 341.2,308.5 344.0,311.2" fill="#ffee00" fill-opacity="0.23"/>
<polygon points="353.2,223.3 354.7,222.4 405.0,222.4 406.0,223.3 407.0,226.8 408.0,234.8 408.7,245.5 409.3,256.1 409.8,264.1 410.6,271.2 411.4,281.9 412.2,293.4 413.3,302.3 414.6,306.8 416.2,309.2 418.6,310.8 420.4,311.2 376.0,311.2 371.6,309.4 368.5,306.8 366.0,302.3 364.5,295.2 363.2,286.3 362.5,275.7 361.9,266.8 361.3,257.9 360.5,247.3 359.0,238.4 357.7,231.0 356.0,225.1" fill="#00e000" fill-opacity="0.21"/>
</g>
<g clip-path="url(#c20)">
<g clip-path="url(#xr2)"><polygon clip-path="url(#bb2)" points="496.8,19.5 496.8,97.0 497.8,93.0 498.5,87.5 499.4,89.0 500.3,91.8 501.2,94.0 502.1,95.4 503.3,95.8 504.4,95.4 505.6,94.0 506.8,91.8 508.0,86.0 509.2,78.9 510.3,71.8 511.5,65.9 512.7,61.0 513.5,57.5 515.1,56.0 517.2,58.0 519.3,60.8 520.7,63.6 522.7,71.9 524.8,77.4 526.9,83.0 529.7,85.8 531.8,81.6 533.8,74.7 535.2,69.8 538.0,67.0 540.8,65.0 543.5,65.7 546.3,65.7 549.1,67.7 550.5,71.9 552.6,76.1 554.6,77.4 557.4,76.3 560.2,77.2 563.0,77.4 564.3,81.6 565.7,78.8 567.1,74.7 568.5,70.5 570.6,64.3 572.7,60.1 574.2,58.8 576.9,58.1 579.7,60.8 581.8,66.1 585.3,69.6 589.4,73.0 592.9,71.0 595.0,66.1 597.0,57.5 599.8,54.7 601.8,55.5 603.5,57.7 605.7,65.1 607.2,69.0 608.7,72.4 610.2,75.5 611.6,78.3 613.2,79.8 614.5,78.0 615.8,74.4 617.8,65.0 619.9,55.3 622.0,45.6 624.8,35.9 628.3,30.3 631.7,26.9 634.5,25.5 637.3,26.2 639.6,30.2 641.6,38.5 642.6,46.7 643.7,59.0 644.7,71.4 645.7,79.6 646.8,83.8 648.0,84.5 649.5,82.0 649.5,19.5" fill="#f03a3a"/></g>
<polygon points="642.3,44.0 643.7,41.5 645.7,45.0 647.4,54.0 648.4,65.0 648.4,76.0 647.0,80.0 645.3,74.0 643.9,62.0 642.8,52.0" fill="#f03a3a"/>
<polyline points="496.8,97.0 497.8,93.0 498.5,87.5 499.4,89.0 500.3,91.8 501.2,94.0 502.1,95.4 503.3,95.8 504.4,95.4 505.6,94.0 506.8,91.8 508.0,86.0 509.2,78.9 510.3,71.8 511.5,65.9 512.7,61.0 513.5,57.5 515.1,56.0 517.2,58.0 519.3,60.8 520.7,63.6 522.7,71.9 524.8,77.4 526.9,83.0 529.7,85.8 531.8,81.6 533.8,74.7 535.2,69.8 538.0,67.0 540.8,65.0 543.5,65.7 546.3,65.7 549.1,67.7 550.5,71.9 552.6,76.1 554.6,77.4 557.4,76.3 560.2,77.2 563.0,77.4 564.3,81.6 565.7,78.8 567.1,74.7 568.5,70.5 570.6,64.3 572.7,60.1 574.2,58.8 576.9,58.1 579.7,60.8 581.8,66.1 585.3,69.6 589.4,73.0 592.9,71.0 595.0,66.1 597.0,57.5 599.8,54.7 601.8,55.5 603.5,57.7 605.7,65.1 607.2,69.0 608.7,72.4 610.2,75.5 611.6,78.3 613.2,79.8 614.5,78.0 615.8,74.4 617.8,65.0 619.9,55.3 622.0,45.6 624.8,35.9 628.3,30.3 631.7,26.9 634.5,25.5 637.3,26.2 639.6,30.2 641.6,38.5 642.6,46.7 643.7,59.0 644.7,71.4 645.7,79.6 646.8,83.8 648.0,84.5 649.5,82.0" fill="none" stroke="#00885a" stroke-width="2.7" stroke-linejoin="round" stroke-linecap="round" />
<path d="" stroke="#00885a" stroke-width="1.9" stroke-linecap="round"/>
<polyline points="496.8,55.3 497.8,55.3 498.3,59.4 499.2,67.7 500.3,69.1 501.2,60.8 502.6,49.7 504.0,52.5 505.4,58.0 506.8,65.0 508.2,70.5 510.3,76.1 512.3,79.5 514.4,78.8 515.8,73.3 516.5,68.4 517.9,67.0 519.3,67.7 521.4,59.4 523.4,55.3 524.8,58.0 526.9,60.1 529.0,60.8 530.4,65.0 531.8,69.1 533.1,71.9 535.2,72.6 536.6,71.2 538.7,69.8 540.8,67.7 542.8,68.4 544.9,67.7 547.7,67.0 550.5,62.9 552.6,61.5 553.9,62.9 556.0,65.7 558.8,67.0 561.6,65.7 563.7,60.8 564.3,59.4 565.7,65.0 567.1,69.8 569.9,72.6 572.7,73.3 576.1,72.6 578.3,66.8 582.5,64.0 585.3,66.1 588.0,65.4 590.8,68.2 594.3,68.9 597.7,68.2 601.2,68.9 604.0,66.1 606.1,60.5 607.4,57.8 608.8,61.2 610.9,64.7 613.0,66.8 615.1,71.6 617.8,77.2 621.3,78.6 625.5,77.9 629.6,75.8 633.8,72.3 636.6,68.9 639.3,64.7 640.6,63.2 641.5,55.0 642.5,47.0 643.5,43.0" fill="none" stroke="#000" stroke-width="1.8" stroke-linejoin="round" stroke-linecap="round" />
<path d="M644.5 42.0h0M645.5 45.5h0M646.2 49.0h0M646.8 53.0h0M647.2 57.0h0M647.6 61.0h0M647.9 65.0h0M648.1 69.0h0M646.0 56.0h0M645.2 51.0h0M644.8 60.0h0" stroke="#000" stroke-width="1.8" stroke-linecap="round"/>
<line x1="643.3" y1="24.5" x2="643.3" y2="69" stroke="#a01818" stroke-width="0.9"/>
<polygon points="566.2,113.3 569.0,112.1 571.5,109.7 574.3,106.2 576.5,100.9 578.3,95.5 579.4,88.4 580.3,82.2 581.0,75.6 581.6,68.9 582.4,64.5 583.5,60.9 584.6,57.4 585.7,54.2 586.3,49.4 586.8,45.5 588.0,38.7 589.2,34.3 590.4,31.8 591.5,31.2 598.6,31.2 599.5,32.9 601.0,38.7 602.2,46.7 603.4,56.0 604.8,61.8 606.0,65.8 607.0,68.9 607.8,74.2 608.5,80.4 609.2,87.5 609.9,94.2 610.6,100.0 611.3,104.2 612.5,108.0 614.1,110.6 615.8,112.4 617.7,113.3" fill="#ff0000" fill-opacity="0.2"/>
<polygon points="589.2,33.8 591.0,31.6 593.3,29.5 595.5,27.6 597.5,26.3 600.0,24.5 634.2,24.5 635.0,26.3 636.3,29.6 637.0,33.4 637.6,38.9 638.3,49.5 638.7,60.0 639.2,68.9 640.3,82.2 641.6,95.5 642.5,100.9 643.6,104.9 645.0,108.9 646.9,111.5 650.4,113.3 617.7,113.3 615.8,112.4 614.1,110.6 612.5,108.0 611.3,104.2 610.6,100.0 609.9,94.2 609.2,87.5 608.5,80.4 607.8,74.2 607.0,68.9 606.0,65.8 604.8,61.8 603.4,56.0 602.2,46.7 601.0,38.7 599.5,32.9 598.6,31.2" fill="#00e000" fill-opacity="0.21"/>
<rect x="496.6" y="69.5" width="153.8" height="8.3" fill="#c0c0c0" fill-opacity="0.62"/>
<line x1="496.6" y1="69.5" x2="650.4000000000001" y2="69.5" stroke="#222" stroke-width="0.9"/>
</g>
<g clip-path="url(#c21)">
<polygon clip-path="url(#mab2)" points="498.0,168.0 498.0,143.5 498.8,146.3 499.7,152.0 501.1,147.7 502.5,142.1 504.8,142.1 506.7,149.2 508.7,160.5 510.4,169.0 511.6,177.5 513.3,184.6 515.2,181.7 516.7,174.7 518.9,177.5 520.9,170.4 522.3,160.5 525.2,154.8 528.0,152.6 530.3,154.8 532.2,160.5 535.1,166.2 537.9,169.0 540.7,171.3 543.6,169.0 546.4,168.4 549.2,164.7 552.1,159.1 554.9,160.5 559.2,161.1 563.4,159.1 564.8,154.8 567.1,161.9 569.1,169.0 571.9,176.1 576.2,178.1 580.4,173.2 584.7,167.6 588.9,164.7 591.7,164.7 594.6,170.4 597.4,177.5 600.2,180.3 603.1,177.5 605.9,169.0 608.7,160.5 612.4,159.1 615.2,163.3 618.1,173.2 620.9,184.6 624.3,193.1 628.6,200.2 632.8,204.4 635.6,203.0 638.5,195.9 641.3,186.0 642.7,174.7 644.1,160.5 646.1,153.4 648.4,152.0 648.4,168.0" fill="#f03a3a"/>
<line x1="496.6" y1="168.0" x2="650.4000000000001" y2="168.0" stroke="#333" stroke-width="0.8"/>
<polyline points="498.0,143.5 498.8,146.3 499.7,152.0 501.1,147.7 502.5,142.1 504.8,142.1 506.7,149.2 508.7,160.5 510.4,169.0 511.6,177.5 513.3,184.6 515.2,181.7 516.7,174.7 518.9,177.5 520.9,170.4 522.3,160.5 525.2,154.8 528.0,152.6 530.3,154.8 532.2,160.5 535.1,166.2 537.9,169.0 540.7,171.3 543.6,169.0 546.4,168.4 549.2,164.7 552.1,159.1 554.9,160.5 559.2,161.1 563.4,159.1 564.8,154.8 567.1,161.9 569.1,169.0 571.9,176.1 576.2,178.1 580.4,173.2 584.7,167.6 588.9,164.7 591.7,164.7 594.6,170.4 597.4,177.5 600.2,180.3 603.1,177.5 605.9,169.0 608.7,160.5 612.4,159.1 615.2,163.3 618.1,173.2 620.9,184.6 624.3,193.1 628.6,200.2 632.8,204.4 635.6,203.0 638.5,195.9 641.3,186.0 642.7,174.7 644.1,160.5 646.1,153.4 648.4,152.0" fill="none" stroke="#000" stroke-width="2.2" stroke-linejoin="round" stroke-linecap="round" />
<polygon points="566.2,212.3 569.0,211.1 571.5,208.7 574.3,205.2 576.5,199.9 578.3,194.5 579.4,187.4 580.3,181.2 581.0,174.6 581.6,167.9 582.4,163.5 583.5,159.9 584.6,156.4 585.7,153.2 586.3,148.4 586.8,144.5 588.0,137.7 589.2,133.3 590.4,130.8 591.5,130.2 598.6,130.2 599.5,131.9 601.0,137.7 602.2,145.7 603.4,155.0 604.8,160.8 606.0,164.8 607.0,167.9 607.8,173.2 608.5,179.4 609.2,186.5 609.9,193.2 610.6,199.0 611.3,203.2 612.5,207.0 614.1,209.6 615.8,211.4 617.7,212.3" fill="#ff0000" fill-opacity="0.2"/>
<polygon points="589.2,132.8 591.0,130.6 593.3,128.5 595.5,126.6 597.5,125.3 600.0,123.5 634.2,123.5 635.0,125.3 636.3,128.6 637.0,132.4 637.6,137.9 638.3,148.5 638.7,159.0 639.2,167.9 640.3,181.2 641.6,194.5 642.5,199.9 643.6,203.9 645.0,207.9 646.9,210.5 650.4,212.3 617.7,212.3 615.8,211.4 614.1,209.6 612.5,207.0 611.3,203.2 610.6,199.0 609.9,193.2 609.2,186.5 608.5,179.4 607.8,173.2 607.0,167.9 606.0,164.8 604.8,160.8 603.4,155.0 602.2,145.7 601.0,137.7 599.5,131.9 598.6,130.2" fill="#00e000" fill-opacity="0.21"/>
</g>
<g clip-path="url(#c22)">
<path d="M496.8 310.7h0M497.2 309.3h0M497.7 310.3h0M498.1 310.0h0M498.3 309.4h0M498.5 309.9h0M499.2 309.1h0M499.6 309.3h0M499.8 309.8h0M500.3 310.0h0M500.5 309.3h0M500.9 308.8h0M501.2 308.4h0M501.6 308.9h0M502.1 308.6h0M502.3 309.3h0M502.5 308.7h0M502.9 307.5h0M503.1 306.7h0M503.6 306.1h0M504.0 306.5h0M504.2 305.6h0M504.4 304.4h0M504.6 305.1h0M504.8 304.5h0M505.0 304.0h0M505.4 303.2h0M505.9 301.7h0M506.1 302.2h0M506.3 301.8h0M506.5 300.1h0M506.7 300.6h0M506.9 300.0h0M507.1 299.1h0M507.3 298.7h0M507.6 298.1h0M508.0 297.0h0M508.4 295.8h0M508.9 295.8h0M509.1 294.7h0M509.6 294.5h0M510.2 294.4h0M510.4 294.9h0M510.6 295.8h0M510.8 295.4h0M511.0 296.8h0M511.2 296.2h0M511.4 297.6h0M511.6 297.0h0M511.8 298.7h0M512.3 299.4h0M512.5 300.1h0M512.8 301.0h0M513.0 301.6h0M513.5 302.5h0M513.7 303.7h0M513.9 305.0h0M514.4 305.2h0M514.6 306.5h0M515.1 307.0h0M515.3 306.2h0M515.5 307.2h0M515.8 306.4h0M516.0 307.5h0M516.4 307.2h0M516.6 308.3h0M516.8 307.3h0M517.0 308.1h0M517.3 308.7h0M517.5 307.9h0M517.9 309.1h0M518.1 308.6h0M518.3 309.1h0M518.5 308.2h0M518.7 308.8h0M519.2 309.5h0M519.4 308.7h0M519.6 310.1h0M519.8 308.8h0M520.0 309.9h0M520.3 309.0h0M520.5 309.4h0M520.7 310.4h0M520.9 309.5h0M521.3 310.1h0M521.5 309.6h0M521.7 309.0h0M522.0 310.4h0M522.2 309.1h0M522.8 309.5h0M523.2 308.7h0M523.7 308.4h0M523.9 309.0h0M524.1 309.4h0M524.8 309.2h0M525.2 309.0h0M525.4 308.5h0M525.6 308.0h0M525.8 308.5h0M526.0 307.8h0M526.2 307.4h0M526.7 308.2h0M526.9 306.9h0M527.1 307.5h0M527.3 307.0h0M527.7 306.4h0M527.9 307.5h0M528.1 306.3h0M528.8 305.5h0M529.0 306.2h0M529.2 305.4h0M529.6 304.9h0M530.0 304.5h0M530.2 305.1h0M530.5 304.6h0M530.7 305.1h0M531.1 304.7h0M531.3 303.3h0M531.8 302.8h0M532.2 302.8h0M532.6 302.4h0M532.9 301.5h0M533.3 301.7h0M533.5 301.0h0M534.0 301.8h0M534.4 302.5h0M534.7 301.8h0M535.1 301.9h0M535.5 302.3h0M535.7 302.9h0M536.4 303.6h0M536.6 303.1h0M536.8 304.3h0M537.4 304.1h0M537.8 304.7h0M538.0 304.0h0M538.2 304.8h0M538.9 304.8h0M539.1 306.1h0M539.3 305.6h0M539.7 306.6h0M540.0 306.2h0M540.2 305.8h0M540.4 306.9h0M540.6 306.0h0M540.8 305.6h0M541.1 306.6h0M541.3 305.8h0M541.7 307.1h0M542.1 306.0h0M542.3 306.7h0M542.8 306.9h0M543.2 307.2h0M543.4 306.5h0M543.8 306.9h0M544.0 307.6h0M544.2 306.2h0M544.5 307.2h0M544.7 306.2h0M544.9 306.7h0M545.3 306.3h0M545.8 306.0h0M546.0 305.4h0M546.4 305.2h0M546.6 306.2h0M546.8 305.8h0M547.3 305.7h0M547.5 304.5h0M547.7 305.4h0M548.3 304.8h0M548.8 304.6h0M549.0 305.0h0M549.2 304.1h0M549.8 304.5h0M550.0 304.0h0M550.5 303.6h0M550.7 302.6h0M551.3 301.9h0M551.7 302.1h0M552.2 301.6h0M552.6 300.4h0M553.1 301.4h0M553.3 299.9h0M553.7 298.4h0M554.0 297.2h0M554.4 296.1h0M554.7 294.4h0M554.9 292.4h0M555.1 291.5h0M555.4 290.3h0M555.6 289.8h0M555.8 288.6h0M556.1 287.1h0M556.3 286.0h0M556.5 284.7h0M557.0 284.6h0M557.2 283.6h0M557.4 281.9h0M557.8 281.4h0M558.1 280.0h0M558.5 278.9h0M558.9 277.4h0M559.3 276.5h0M559.5 275.5h0M559.8 274.1h0M560.2 272.5h0M560.8 270.5h0M561.2 269.4h0M561.4 268.5h0M561.9 267.7h0M562.1 266.6h0M562.3 265.4h0M562.7 263.6h0M563.2 262.3h0M563.4 261.6h0M563.6 260.9h0M563.8 259.0h0M564.3 257.6h0M564.5 257.0h0M564.8 256.5h0M565.0 255.1h0M565.2 253.2h0M565.7 252.3h0M565.9 251.6h0M566.2 250.3h0M566.4 249.6h0M566.6 247.5h0M566.9 247.9h0M567.1 246.6h0M567.3 245.9h0M567.7 245.2h0M567.9 243.5h0M568.1 244.0h0M568.3 243.3h0M568.5 241.9h0M568.9 241.4h0M569.1 240.2h0M569.3 241.9h0M569.8 243.0h0M570.0 243.5h0M570.3 243.9h0M570.5 245.1h0M570.7 245.7h0M571.2 247.8h0M571.4 247.2h0M571.7 247.8h0M571.9 249.2h0M572.1 250.9h0M572.4 251.8h0M572.6 253.1h0M572.8 253.8h0M573.1 255.3h0M573.3 256.0h0M573.5 257.0h0M573.8 258.6h0M574.0 259.0h0M574.2 260.3h0M574.5 262.5h0M574.9 264.5h0M575.1 265.4h0M575.6 266.8h0M575.8 267.8h0M576.0 268.7h0M576.4 269.4h0M576.7 270.7h0M576.9 271.8h0M577.1 272.5h0M577.4 273.0h0M577.6 274.8h0M577.8 276.5h0M578.3 277.9h0M578.5 278.7h0M578.8 279.9h0M579.0 281.6h0M579.5 283.4h0M579.7 284.2h0M579.9 285.3h0M580.2 287.0h0M580.6 288.6h0M581.1 289.7h0M581.3 290.6h0M581.6 291.1h0M582.0 292.8h0M582.3 292.4h0M582.5 293.9h0M583.0 295.2h0M583.2 296.4h0M583.4 295.4h0M583.6 294.3h0M583.8 292.9h0M584.1 291.8h0M584.3 291.3h0M584.5 290.0h0M584.7 289.2h0M585.2 286.8h0M585.6 285.1h0M585.9 284.0h0M586.1 282.9h0M586.3 280.9h0M586.6 279.8h0M586.8 277.7h0M587.0 276.4h0M587.3 274.6h0M587.5 273.8h0M587.7 272.2h0M588.0 269.8h0M588.2 268.5h0M588.4 267.2h0M588.7 264.7h0M588.9 262.7h0M589.1 261.2h0M589.3 259.4h0M589.5 258.5h0M589.7 256.3h0M589.9 254.6h0M590.1 253.5h0M590.3 251.0h0M590.5 250.2h0M590.7 248.2h0M590.9 246.2h0M591.1 245.7h0M591.3 243.9h0M591.8 242.6h0M592.0 241.0h0M592.2 240.2h0M592.4 239.5h0M592.6 238.2h0M592.8 239.3h0M593.0 240.6h0M593.2 241.9h0M593.4 242.7h0M593.6 244.2h0M594.0 246.0h0M594.2 247.2h0M594.4 247.9h0M594.6 249.0h0M594.8 250.3h0M595.1 253.2h0M595.3 253.9h0M595.5 255.7h0M595.8 258.0h0M596.0 258.5h0M596.2 261.4h0M596.5 261.8h0M596.7 263.3h0M596.9 265.4h0M597.2 267.1h0M597.4 269.6h0M597.6 270.6h0M597.9 271.5h0M598.1 272.1h0M598.3 273.3h0M598.5 273.9h0M598.8 275.9h0M599.0 276.3h0M599.2 277.2h0M599.4 278.7h0M599.8 280.1h0M600.0 281.9h0M600.5 282.6h0M600.7 283.7h0M600.9 284.7h0M601.1 285.9h0M601.3 286.4h0M601.5 287.3h0M601.7 288.0h0M602.0 288.8h0M602.2 290.1h0M602.6 291.3h0M602.8 292.7h0M603.2 293.4h0M603.4 295.2h0M603.9 296.7h0M604.3 297.9h0M604.5 299.2h0M604.7 298.7h0M604.9 299.5h0M605.5 300.5h0M605.8 299.8h0M606.2 300.6h0M606.6 301.3h0M607.2 301.5h0M607.4 302.4h0M607.9 302.6h0M608.3 302.4h0M608.9 301.8h0M609.1 302.5h0M609.3 300.6h0M609.6 301.2h0M609.8 300.2h0M610.2 298.1h0M610.7 297.7h0M610.9 295.9h0M611.1 295.3h0M611.6 294.0h0M611.8 292.6h0M612.1 291.9h0M612.3 289.6h0M612.8 287.6h0M613.0 285.3h0M613.5 282.8h0M613.7 281.7h0M613.9 280.4h0M614.2 278.4h0M614.4 277.5h0M614.6 276.1h0M614.9 275.6h0M615.3 275.1h0M615.6 274.0h0M615.8 273.5h0M616.0 273.1h0M616.3 271.3h0M616.7 269.8h0M617.0 269.1h0M617.2 268.4h0M617.4 269.2h0M617.8 270.4h0M618.1 271.2h0M618.3 272.2h0M618.5 273.1h0M618.7 273.8h0M618.9 274.2h0M619.2 274.6h0M619.4 276.0h0M619.6 275.6h0M619.9 276.2h0M620.1 278.0h0M620.3 278.6h0M620.8 280.2h0M621.0 281.0h0M621.3 282.1h0M621.5 283.1h0M621.7 284.0h0M622.0 285.5h0M622.2 286.5h0M622.4 287.0h0M622.7 287.8h0M622.9 288.5h0M623.1 289.8h0M623.3 290.7h0M623.5 290.1h0M623.7 291.4h0M624.0 291.9h0M624.2 292.5h0M624.6 293.4h0M625.0 294.0h0M625.2 295.2h0M625.4 295.9h0M625.6 296.4h0M625.8 297.1h0M626.0 297.7h0M626.7 299.5h0M626.9 300.1h0M627.1 300.7h0M627.5 300.0h0M627.8 300.6h0M628.2 301.7h0M628.7 301.6h0M628.9 303.0h0M629.3 303.5h0M629.8 303.1h0M630.2 304.5h0M630.6 304.2h0M630.9 305.4h0M631.3 305.2h0M631.7 306.2h0M632.2 306.6h0M632.4 306.1h0M632.6 307.2h0M633.0 307.9h0M633.2 306.9h0M633.7 307.6h0M634.1 307.7h0M634.3 308.4h0M634.6 307.3h0M634.8 308.3h0M635.2 308.4h0M635.5 308.0h0M636.1 308.3h0M636.6 308.0h0M636.8 308.5h0M637.2 308.6h0M637.9 308.4h0M638.1 309.1h0M638.3 309.6h0M638.5 308.7h0M638.7 309.3h0M639.1 309.9h0M639.6 309.2h0M640.0 310.1h0M640.2 309.3h0M640.7 310.3h0M640.9 309.4h0M641.3 309.7h0M642.0 308.9h0M642.4 308.5h0M642.8 307.3h0M643.1 307.9h0M643.3 306.9h0M643.7 307.1h0M643.9 306.5h0M644.1 305.7h0M644.3 306.2h0M644.8 305.7h0M645.0 305.2h0M645.6 303.9h0M645.8 302.8h0M646.2 301.2h0M646.4 298.8h0M646.6 298.3h0M646.8 297.0h0M647.0 295.0h0M647.3 293.6h0M647.5 291.7h0M647.7 288.8h0M648.0 286.3h0M648.2 283.5h0" stroke="#000" stroke-width="2.4" stroke-linecap="round" fill="none"/>
<polyline points="576.0,311.1 579.6,310.4 583.0,309.8 586.7,309.0 589.0,307.8 591.5,306.1 593.3,303.8 595.1,301.3 596.9,298.0 598.7,294.6 600.5,290.8 602.3,287.0 604.0,283.4 605.8,279.8 607.4,276.5" fill="none" stroke="#1f1fd0" stroke-width="1.5" stroke-linejoin="round" stroke-linecap="round" />
<polyline points="609.6,271.6 611.3,267.2 613.0,264.3 614.8,261.3 616.6,258.3 618.4,255.3 620.2,252.3 622.0,249.9 623.8,247.5 626.0,245.0 628.5,242.8 631.0,241.7 633.3,241.1 636.0,240.7 639.3,240.4 642.9,240.3" fill="none" stroke="#1f1fd0" stroke-width="1.5" stroke-linejoin="round" stroke-linecap="round" />
<polyline points="644.4,240.1 645.9,240.0" fill="none" stroke="#1f1fd0" stroke-width="1.3" stroke-linejoin="round" stroke-linecap="round" />
<polyline points="647.2,239.9 648.8,239.9" fill="none" stroke="#1f1fd0" stroke-width="1.3" stroke-linejoin="round" stroke-linecap="round" />
<polygon points="566.2,311.2 569.0,310.0 571.5,307.6 574.3,304.1 576.5,298.8 578.3,293.4 579.4,286.3 580.3,280.1 581.0,273.5 581.6,266.8 582.4,262.4 583.5,258.8 584.6,255.3 585.7,252.1 586.3,247.3 586.8,243.4 588.0,236.6 589.2,232.2 590.4,229.7 591.5,229.1 598.6,229.1 599.5,230.8 601.0,236.6 602.2,244.6 603.4,253.9 604.8,259.7 606.0,263.7 607.0,266.8 607.8,272.1 608.5,278.3 609.2,285.4 609.9,292.1 610.6,297.9 611.3,302.1 612.5,305.9 614.1,308.5 615.8,310.3 617.7,311.2" fill="#ff0000" fill-opacity="0.2"/>
<polygon points="589.2,231.7 591.0,229.5 593.3,227.4 595.5,225.5 597.5,224.2 600.0,222.4 634.2,222.4 635.0,224.2 636.3,227.5 637.0,231.3 637.6,236.8 638.3,247.4 638.7,257.9 639.2,266.8 640.3,280.1 641.6,293.4 642.5,298.8 643.6,302.8 645.0,306.8 646.9,309.4 650.4,311.2 617.7,311.2 615.8,310.3 614.1,308.5 612.5,305.9 611.3,302.1 610.6,297.9 609.9,292.1 609.2,285.4 608.5,278.3 607.8,272.1 607.0,266.8 606.0,263.7 604.8,259.7 603.4,253.9 602.2,244.6 601.0,236.6 599.5,230.8 598.6,229.1" fill="#00e000" fill-opacity="0.21"/>
</g>
<line x1="37.3" y1="24.5" x2="190.39999999999998" y2="24.5" stroke="#c4c4c4" stroke-width="1"/>
<line x1="190.39999999999998" y1="24.5" x2="190.39999999999998" y2="113.3" stroke="#8c8c8c" stroke-width="1"/>
<line x1="37.3" y1="113.3" x2="190.39999999999998" y2="113.3" stroke="#8c8c8c" stroke-width="1"/>
<line x1="37.3" y1="24.5" x2="37.3" y2="113.3" stroke="#00885a" stroke-width="0.9" opacity="0.45"/>
<path d="M37.3 113.3h2.0M37.3 106.6h1.2M37.3 102.7h1.2M37.3 99.9h1.2M37.3 97.8h1.2M37.3 96.0h1.2M37.3 94.5h1.2M37.3 93.3h1.2M37.3 92.1h1.2M37.3 91.1h2.0M37.3 84.4h1.2M37.3 80.5h1.2M37.3 77.7h1.2M37.3 75.6h1.2M37.3 73.8h1.2M37.3 72.3h1.2M37.3 71.1h1.2M37.3 69.9h1.2M37.3 68.9h2.0M37.3 62.2h1.2M37.3 58.3h1.2M37.3 55.5h1.2M37.3 53.4h1.2M37.3 51.6h1.2M37.3 50.1h1.2M37.3 48.9h1.2M37.3 47.7h1.2M37.3 46.7h2.0M37.3 40.0h1.2M37.3 36.1h1.2M37.3 33.3h1.2M37.3 31.2h1.2M37.3 29.4h1.2M37.3 27.9h1.2M37.3 26.7h1.2M37.3 25.5h1.2" stroke="#00885a" stroke-width="0.8" opacity="0.8"/>
<line x1="37.3" y1="123.5" x2="190.39999999999998" y2="123.5" stroke="#d4d4d4" stroke-width="1"/>
<line x1="190.39999999999998" y1="123.5" x2="190.39999999999998" y2="212.3" stroke="#8c8c8c" stroke-width="1"/>
<line x1="37.3" y1="212.3" x2="190.39999999999998" y2="212.3" stroke="#8c8c8c" stroke-width="1"/>
<line x1="37.3" y1="123.5" x2="37.3" y2="212.3" stroke="#8c8c8c" stroke-width="1"/>
<line x1="37.3" y1="222.4" x2="190.39999999999998" y2="222.4" stroke="#a0a0a0" stroke-width="1"/>
<line x1="190.39999999999998" y1="222.4" x2="190.39999999999998" y2="311.2" stroke="#8a8ae0" stroke-width="1"/>
<line x1="37.3" y1="311.2" x2="190.39999999999998" y2="311.2" stroke="#8c8c8c" stroke-width="1"/>
<line x1="37.3" y1="222.4" x2="37.3" y2="311.2" stroke="#8c8c8c" stroke-width="1"/>
<line x1="67.3" y1="311.2" x2="67.3" y2="309.59999999999997" stroke="#777" stroke-width="0.8"/>
<line x1="67.3" y1="222.4" x2="67.3" y2="224.0" stroke="#777" stroke-width="0.8"/>
<line x1="110.4" y1="311.2" x2="110.4" y2="309.59999999999997" stroke="#777" stroke-width="0.8"/>
<line x1="110.4" y1="222.4" x2="110.4" y2="224.0" stroke="#777" stroke-width="0.8"/>
<line x1="153.5" y1="311.2" x2="153.5" y2="309.59999999999997" stroke="#777" stroke-width="0.8"/>
<line x1="153.5" y1="222.4" x2="153.5" y2="224.0" stroke="#777" stroke-width="0.8"/>
<line x1="37.3" y1="311.0" x2="100.8" y2="311.0" stroke="#8c8ce6" stroke-width="1.5"/>
<line x1="101.4" y1="24.5" x2="101.4" y2="113.3" stroke="#333" stroke-width="0.8" stroke-dasharray="1 1.6"/>
<line x1="101.4" y1="122.5" x2="101.4" y2="212.3" stroke="#333" stroke-width="0.8" stroke-dasharray="1 1.6"/>
<line x1="101.4" y1="221.4" x2="101.4" y2="311.2" stroke="#333" stroke-width="0.8" stroke-dasharray="1 1.6"/>
<line x1="190.39999999999998" y1="37.6" x2="188.89999999999998" y2="37.6" stroke="#777" stroke-width="0.7"/>
<line x1="190.39999999999998" y1="53.5" x2="188.89999999999998" y2="53.5" stroke="#777" stroke-width="0.7"/>
<line x1="190.39999999999998" y1="69.5" x2="188.89999999999998" y2="69.5" stroke="#777" stroke-width="0.7"/>
<line x1="190.39999999999998" y1="85.5" x2="188.89999999999998" y2="85.5" stroke="#777" stroke-width="0.7"/>
<line x1="190.39999999999998" y1="101.4" x2="188.89999999999998" y2="101.4" stroke="#777" stroke-width="0.7"/>
<line x1="37.3" y1="132.3" x2="38.8" y2="132.3" stroke="#777" stroke-width="0.7"/>
<line x1="190.39999999999998" y1="132.3" x2="188.89999999999998" y2="132.3" stroke="#777" stroke-width="0.7"/>
<line x1="37.3" y1="150.1" x2="38.8" y2="150.1" stroke="#777" stroke-width="0.7"/>
<line x1="190.39999999999998" y1="150.1" x2="188.89999999999998" y2="150.1" stroke="#777" stroke-width="0.7"/>
<line x1="37.3" y1="167.9" x2="38.8" y2="167.9" stroke="#777" stroke-width="0.7"/>
<line x1="190.39999999999998" y1="167.9" x2="188.89999999999998" y2="167.9" stroke="#777" stroke-width="0.7"/>
<line x1="37.3" y1="185.7" x2="38.8" y2="185.7" stroke="#777" stroke-width="0.7"/>
<line x1="190.39999999999998" y1="185.7" x2="188.89999999999998" y2="185.7" stroke="#777" stroke-width="0.7"/>
<line x1="37.3" y1="203.5" x2="38.8" y2="203.5" stroke="#777" stroke-width="0.7"/>
<line x1="190.39999999999998" y1="203.5" x2="188.89999999999998" y2="203.5" stroke="#777" stroke-width="0.7"/>
<line x1="266.8" y1="24.5" x2="420.4" y2="24.5" stroke="#c4c4c4" stroke-width="1"/>
<line x1="420.4" y1="24.5" x2="420.4" y2="113.3" stroke="#8c8c8c" stroke-width="1"/>
<line x1="266.8" y1="113.3" x2="420.4" y2="113.3" stroke="#8c8c8c" stroke-width="1"/>
<line x1="266.8" y1="24.5" x2="266.8" y2="113.3" stroke="#00885a" stroke-width="0.9" opacity="0.45"/>
<path d="M266.8 113.3h2.0M266.8 106.6h1.2M266.8 102.7h1.2M266.8 99.9h1.2M266.8 97.8h1.2M266.8 96.0h1.2M266.8 94.5h1.2M266.8 93.3h1.2M266.8 92.1h1.2M266.8 91.1h2.0M266.8 84.4h1.2M266.8 80.5h1.2M266.8 77.7h1.2M266.8 75.6h1.2M266.8 73.8h1.2M266.8 72.3h1.2M266.8 71.1h1.2M266.8 69.9h1.2M266.8 68.9h2.0M266.8 62.2h1.2M266.8 58.3h1.2M266.8 55.5h1.2M266.8 53.4h1.2M266.8 51.6h1.2M266.8 50.1h1.2M266.8 48.9h1.2M266.8 47.7h1.2M266.8 46.7h2.0M266.8 40.0h1.2M266.8 36.1h1.2M266.8 33.3h1.2M266.8 31.2h1.2M266.8 29.4h1.2M266.8 27.9h1.2M266.8 26.7h1.2M266.8 25.5h1.2" stroke="#00885a" stroke-width="0.8" opacity="0.8"/>
<line x1="266.8" y1="123.5" x2="420.4" y2="123.5" stroke="#d4d4d4" stroke-width="1"/>
<line x1="420.4" y1="123.5" x2="420.4" y2="212.3" stroke="#8c8c8c" stroke-width="1"/>
<line x1="266.8" y1="212.3" x2="420.4" y2="212.3" stroke="#8c8c8c" stroke-width="1"/>
<line x1="266.8" y1="123.5" x2="266.8" y2="212.3" stroke="#8c8c8c" stroke-width="1"/>
<line x1="266.8" y1="222.4" x2="420.4" y2="222.4" stroke="#a0a0a0" stroke-width="1"/>
<line x1="420.4" y1="222.4" x2="420.4" y2="311.2" stroke="#8a8ae0" stroke-width="1"/>
<line x1="266.8" y1="311.2" x2="420.4" y2="311.2" stroke="#8c8c8c" stroke-width="1"/>
<line x1="266.8" y1="222.4" x2="266.8" y2="311.2" stroke="#8c8c8c" stroke-width="1"/>
<line x1="297.3" y1="311.2" x2="297.3" y2="309.59999999999997" stroke="#777" stroke-width="0.8"/>
<line x1="297.3" y1="222.4" x2="297.3" y2="224.0" stroke="#777" stroke-width="0.8"/>
<line x1="340.4" y1="311.2" x2="340.4" y2="309.59999999999997" stroke="#777" stroke-width="0.8"/>
<line x1="340.4" y1="222.4" x2="340.4" y2="224.0" stroke="#777" stroke-width="0.8"/>
<line x1="383.5" y1="311.2" x2="383.5" y2="309.59999999999997" stroke="#777" stroke-width="0.8"/>
<line x1="383.5" y1="222.4" x2="383.5" y2="224.0" stroke="#777" stroke-width="0.8"/>
<line x1="266.8" y1="311.0" x2="333.5" y2="311.0" stroke="#8c8ce6" stroke-width="1.5"/>
<line x1="333.5" y1="24.5" x2="333.5" y2="113.3" stroke="#333" stroke-width="0.8" stroke-dasharray="1 1.6"/>
<line x1="333.5" y1="122.5" x2="333.5" y2="212.3" stroke="#333" stroke-width="0.8" stroke-dasharray="1 1.6"/>
<line x1="333.5" y1="221.4" x2="333.5" y2="311.2" stroke="#333" stroke-width="0.8" stroke-dasharray="1 1.6"/>
<line x1="420.4" y1="37.6" x2="418.9" y2="37.6" stroke="#777" stroke-width="0.7"/>
<line x1="420.4" y1="53.5" x2="418.9" y2="53.5" stroke="#777" stroke-width="0.7"/>
<line x1="420.4" y1="69.5" x2="418.9" y2="69.5" stroke="#777" stroke-width="0.7"/>
<line x1="420.4" y1="85.5" x2="418.9" y2="85.5" stroke="#777" stroke-width="0.7"/>
<line x1="420.4" y1="101.4" x2="418.9" y2="101.4" stroke="#777" stroke-width="0.7"/>
<line x1="266.8" y1="132.3" x2="268.3" y2="132.3" stroke="#777" stroke-width="0.7"/>
<line x1="420.4" y1="132.3" x2="418.9" y2="132.3" stroke="#777" stroke-width="0.7"/>
<line x1="266.8" y1="150.1" x2="268.3" y2="150.1" stroke="#777" stroke-width="0.7"/>
<line x1="420.4" y1="150.1" x2="418.9" y2="150.1" stroke="#777" stroke-width="0.7"/>
<line x1="266.8" y1="167.9" x2="268.3" y2="167.9" stroke="#777" stroke-width="0.7"/>
<line x1="420.4" y1="167.9" x2="418.9" y2="167.9" stroke="#777" stroke-width="0.7"/>
<line x1="266.8" y1="185.7" x2="268.3" y2="185.7" stroke="#777" stroke-width="0.7"/>
<line x1="420.4" y1="185.7" x2="418.9" y2="185.7" stroke="#777" stroke-width="0.7"/>
<line x1="266.8" y1="203.5" x2="268.3" y2="203.5" stroke="#777" stroke-width="0.7"/>
<line x1="420.4" y1="203.5" x2="418.9" y2="203.5" stroke="#777" stroke-width="0.7"/>
<line x1="496.6" y1="24.5" x2="650.4000000000001" y2="24.5" stroke="#c4c4c4" stroke-width="1"/>
<line x1="650.4000000000001" y1="24.5" x2="650.4000000000001" y2="113.3" stroke="#8c8c8c" stroke-width="1"/>
<line x1="496.6" y1="113.3" x2="650.4000000000001" y2="113.3" stroke="#8c8c8c" stroke-width="1"/>
<line x1="496.6" y1="24.5" x2="496.6" y2="113.3" stroke="#00885a" stroke-width="0.9" opacity="0.45"/>
<path d="M496.6 113.3h2.0M496.6 106.6h1.2M496.6 102.7h1.2M496.6 99.9h1.2M496.6 97.8h1.2M496.6 96.0h1.2M496.6 94.5h1.2M496.6 93.3h1.2M496.6 92.1h1.2M496.6 91.1h2.0M496.6 84.4h1.2M496.6 80.5h1.2M496.6 77.7h1.2M496.6 75.6h1.2M496.6 73.8h1.2M496.6 72.3h1.2M496.6 71.1h1.2M496.6 69.9h1.2M496.6 68.9h2.0M496.6 62.2h1.2M496.6 58.3h1.2M496.6 55.5h1.2M496.6 53.4h1.2M496.6 51.6h1.2M496.6 50.1h1.2M496.6 48.9h1.2M496.6 47.7h1.2M496.6 46.7h2.0M496.6 40.0h1.2M496.6 36.1h1.2M496.6 33.3h1.2M496.6 31.2h1.2M496.6 29.4h1.2M496.6 27.9h1.2M496.6 26.7h1.2M496.6 25.5h1.2" stroke="#00885a" stroke-width="0.8" opacity="0.8"/>
<line x1="496.6" y1="123.5" x2="650.4000000000001" y2="123.5" stroke="#d4d4d4" stroke-width="1"/>
<line x1="650.4000000000001" y1="123.5" x2="650.4000000000001" y2="212.3" stroke="#8c8c8c" stroke-width="1"/>
<line x1="496.6" y1="212.3" x2="650.4000000000001" y2="212.3" stroke="#8c8c8c" stroke-width="1"/>
<line x1="496.6" y1="123.5" x2="496.6" y2="212.3" stroke="#8c8c8c" stroke-width="1"/>
<line x1="496.6" y1="222.4" x2="650.4000000000001" y2="222.4" stroke="#a0a0a0" stroke-width="1"/>
<line x1="650.4000000000001" y1="222.4" x2="650.4000000000001" y2="311.2" stroke="#8a8ae0" stroke-width="1"/>
<line x1="496.6" y1="311.2" x2="650.4000000000001" y2="311.2" stroke="#8c8c8c" stroke-width="1"/>
<line x1="496.6" y1="222.4" x2="496.6" y2="311.2" stroke="#8c8c8c" stroke-width="1"/>
<line x1="527.3" y1="311.2" x2="527.3" y2="309.59999999999997" stroke="#777" stroke-width="0.8"/>
<line x1="527.3" y1="222.4" x2="527.3" y2="224.0" stroke="#777" stroke-width="0.8"/>
<line x1="570.4" y1="311.2" x2="570.4" y2="309.59999999999997" stroke="#777" stroke-width="0.8"/>
<line x1="570.4" y1="222.4" x2="570.4" y2="224.0" stroke="#777" stroke-width="0.8"/>
<line x1="613.5" y1="311.2" x2="613.5" y2="309.59999999999997" stroke="#777" stroke-width="0.8"/>
<line x1="613.5" y1="222.4" x2="613.5" y2="224.0" stroke="#777" stroke-width="0.8"/>
<line x1="496.6" y1="311.0" x2="576.0" y2="311.0" stroke="#8c8ce6" stroke-width="1.5"/>
<line x1="564.4" y1="24.5" x2="564.4" y2="113.3" stroke="#333" stroke-width="0.8" stroke-dasharray="1 1.6"/>
<line x1="564.4" y1="122.5" x2="564.4" y2="212.3" stroke="#333" stroke-width="0.8" stroke-dasharray="1 1.6"/>
<line x1="564.4" y1="221.4" x2="564.4" y2="311.2" stroke="#333" stroke-width="0.8" stroke-dasharray="1 1.6"/>
<line x1="650.4000000000001" y1="37.6" x2="648.9000000000001" y2="37.6" stroke="#777" stroke-width="0.7"/>
<line x1="650.4000000000001" y1="53.5" x2="648.9000000000001" y2="53.5" stroke="#777" stroke-width="0.7"/>
<line x1="650.4000000000001" y1="69.5" x2="648.9000000000001" y2="69.5" stroke="#777" stroke-width="0.7"/>
<line x1="650.4000000000001" y1="85.5" x2="648.9000000000001" y2="85.5" stroke="#777" stroke-width="0.7"/>
<line x1="650.4000000000001" y1="101.4" x2="648.9000000000001" y2="101.4" stroke="#777" stroke-width="0.7"/>
<line x1="496.6" y1="132.3" x2="498.1" y2="132.3" stroke="#777" stroke-width="0.7"/>
<line x1="650.4000000000001" y1="132.3" x2="648.9000000000001" y2="132.3" stroke="#777" stroke-width="0.7"/>
<line x1="496.6" y1="150.1" x2="498.1" y2="150.1" stroke="#777" stroke-width="0.7"/>
<line x1="650.4000000000001" y1="150.1" x2="648.9000000000001" y2="150.1" stroke="#777" stroke-width="0.7"/>
<line x1="496.6" y1="167.9" x2="498.1" y2="167.9" stroke="#777" stroke-width="0.7"/>
<line x1="650.4000000000001" y1="167.9" x2="648.9000000000001" y2="167.9" stroke="#777" stroke-width="0.7"/>
<line x1="496.6" y1="185.7" x2="498.1" y2="185.7" stroke="#777" stroke-width="0.7"/>
<line x1="650.4000000000001" y1="185.7" x2="648.9000000000001" y2="185.7" stroke="#777" stroke-width="0.7"/>
<line x1="496.6" y1="203.5" x2="498.1" y2="203.5" stroke="#777" stroke-width="0.7"/>
<line x1="650.4000000000001" y1="203.5" x2="648.9000000000001" y2="203.5" stroke="#777" stroke-width="0.7"/>
<line x1="37.3" y1="311.2" x2="38.8" y2="311.2" stroke="#777" stroke-width="0.7"/>
<line x1="37.3" y1="269.1" x2="38.8" y2="269.1" stroke="#777" stroke-width="0.7"/>
<line x1="37.3" y1="227.0" x2="38.8" y2="227.0" stroke="#777" stroke-width="0.7"/>
<line x1="190.39999999999998" y1="311.2" x2="188.89999999999998" y2="311.2" stroke="#8080dd" stroke-width="0.7"/>
<line x1="190.39999999999998" y1="266.8" x2="188.89999999999998" y2="266.8" stroke="#8080dd" stroke-width="0.7"/>
<line x1="190.39999999999998" y1="222.4" x2="188.89999999999998" y2="222.4" stroke="#8080dd" stroke-width="0.7"/>
<line x1="266.8" y1="311.2" x2="268.3" y2="311.2" stroke="#777" stroke-width="0.7"/>
<line x1="266.8" y1="288.9" x2="268.3" y2="288.9" stroke="#777" stroke-width="0.7"/>
<line x1="266.8" y1="266.7" x2="268.3" y2="266.7" stroke="#777" stroke-width="0.7"/>
<line x1="266.8" y1="244.4" x2="268.3" y2="244.4" stroke="#777" stroke-width="0.7"/>
<line x1="266.8" y1="222.2" x2="268.3" y2="222.2" stroke="#777" stroke-width="0.7"/>
<line x1="420.4" y1="311.2" x2="418.9" y2="311.2" stroke="#8080dd" stroke-width="0.7"/>
<line x1="420.4" y1="266.8" x2="418.9" y2="266.8" stroke="#8080dd" stroke-width="0.7"/>
<line x1="420.4" y1="222.4" x2="418.9" y2="222.4" stroke="#8080dd" stroke-width="0.7"/>
<line x1="496.6" y1="311.2" x2="498.1" y2="311.2" stroke="#777" stroke-width="0.7"/>
<line x1="496.6" y1="266.7" x2="498.1" y2="266.7" stroke="#777" stroke-width="0.7"/>
<line x1="496.6" y1="222.2" x2="498.1" y2="222.2" stroke="#777" stroke-width="0.7"/>
<line x1="650.4000000000001" y1="311.2" x2="648.9000000000001" y2="311.2" stroke="#8080dd" stroke-width="0.7"/>
<line x1="650.4000000000001" y1="266.8" x2="648.9000000000001" y2="266.8" stroke="#8080dd" stroke-width="0.7"/>
<line x1="650.4000000000001" y1="222.4" x2="648.9000000000001" y2="222.4" stroke="#8080dd" stroke-width="0.7"/>
<g opacity="0.999">
<text x="111.2" y="11.9" font-size="13" fill="#111" text-anchor="middle" >United States</text>
<text x="33.699999999999996" y="29.6" font-size="9.2" fill="#00885a" text-anchor="end" opacity="0.85">10<tspan dy="-4.3" font-size="6.3">4</tspan></text>
<text x="33.699999999999996" y="74.0" font-size="9.2" fill="#00885a" text-anchor="end" opacity="0.85">10<tspan dy="-4.3" font-size="6.3">2</tspan></text>
<text x="33.699999999999996" y="117.8" font-size="9.2" fill="#00885a" text-anchor="end" opacity="0.85">10<tspan dy="-4.3" font-size="6.3">0</tspan></text>
<text transform="translate(11.999999999999996,69) rotate(-90)" font-size="9" fill="#00885a" text-anchor="middle" opacity="0.85">T<tspan dy="4.3" font-size="6.5">d</tspan><tspan dy="-4.3"> (days)</tspan></text>
<text x="193.39999999999998" y="40.8" font-size="9" fill="#262626" text-anchor="start" >3</text>
<text x="193.39999999999998" y="56.8" font-size="9" fill="#262626" text-anchor="start" >2</text>
<text x="193.39999999999998" y="72.7" font-size="9" fill="#262626" text-anchor="start" >1</text>
<text x="193.39999999999998" y="88.7" font-size="9" fill="#262626" text-anchor="start" >0</text>
<text x="192.99999999999997" y="104.6" font-size="9" fill="#262626" text-anchor="start" >-1</text>
<text transform="translate(212.39999999999998,73.3) rotate(-90)" font-size="9.2" fill="#262626" text-anchor="start">R<tspan dy="4.2" font-size="7" stroke="#262626" stroke-width="0.15">t</tspan></text>
<text x="31.999999999999996" y="135.5" font-size="9" fill="#262626" text-anchor="end" >2</text>
<text x="31.999999999999996" y="153.3" font-size="9" fill="#262626" text-anchor="end" >1</text>
<text x="31.999999999999996" y="171.1" font-size="9" fill="#262626" text-anchor="end" >0</text>
<text x="31.999999999999996" y="188.9" font-size="9" fill="#262626" text-anchor="end" >-1</text>
<text x="31.999999999999996" y="206.7" font-size="9" fill="#262626" text-anchor="end" >-2</text>
<text transform="translate(19.799999999999997,165) rotate(-90)" font-size="9.5" fill="#262626" text-anchor="middle">RIC-index</text>
<text x="31.999999999999996" y="314.4" font-size="9" fill="#262626" text-anchor="end" >0</text>
<text x="31.999999999999996" y="272.3" font-size="9" fill="#262626" text-anchor="end" >5</text>
<text x="31.999999999999996" y="230.2" font-size="9" fill="#262626" text-anchor="end" >10</text>
<text transform="translate(18.299999999999997,266) rotate(-90)" font-size="9.5" fill="#262626" text-anchor="middle" font-style="italic">Df</text>
<text x="193.89999999999998" y="314.4" font-size="9" fill="#1f1fd0" text-anchor="start" >0</text>
<text x="193.89999999999998" y="270.0" font-size="9" fill="#1f1fd0" text-anchor="start" >50</text>
<text x="193.89999999999998" y="225.6" font-size="9" fill="#1f1fd0" text-anchor="start" >100</text>
<text transform="translate(218.89999999999998,267) rotate(-90)" font-size="9" fill="#1f1fd0" text-anchor="middle">Fully vaccinated (%)</text>
<text x="67.3" y="322.8" font-size="9" fill="#262626" text-anchor="middle" >200</text>
<text x="110.4" y="322.8" font-size="9" fill="#262626" text-anchor="middle" >400</text>
<text x="153.5" y="322.8" font-size="9" fill="#262626" text-anchor="middle" >600</text>
<text x="114.3" y="333.5" font-size="9" fill="#262626" text-anchor="middle" >Time (days)</text>
<text x="106.0" y="36.6" font-size="12.5" fill="#111" stroke="#111" stroke-width="0.25">t<tspan dx="0.5" dy="3.1" font-size="8" stroke-width="0.15">v</tspan></text>
<text x="342.0" y="11.9" font-size="13" fill="#111" text-anchor="middle" >United Kingdom</text>
<text x="263.2" y="29.6" font-size="9.2" fill="#00885a" text-anchor="end" opacity="0.85">10<tspan dy="-4.3" font-size="6.3">4</tspan></text>
<text x="263.2" y="74.0" font-size="9.2" fill="#00885a" text-anchor="end" opacity="0.85">10<tspan dy="-4.3" font-size="6.3">2</tspan></text>
<text x="263.2" y="117.8" font-size="9.2" fill="#00885a" text-anchor="end" opacity="0.85">10<tspan dy="-4.3" font-size="6.3">0</tspan></text>
<text transform="translate(241.5,69) rotate(-90)" font-size="9" fill="#00885a" text-anchor="middle" opacity="0.85">T<tspan dy="4.3" font-size="6.5">d</tspan><tspan dy="-4.3"> (days)</tspan></text>
<text x="423.4" y="40.8" font-size="9" fill="#262626" text-anchor="start" >3</text>
<text x="423.4" y="56.8" font-size="9" fill="#262626" text-anchor="start" >2</text>
<text x="423.4" y="72.7" font-size="9" fill="#262626" text-anchor="start" >1</text>
<text x="423.4" y="88.7" font-size="9" fill="#262626" text-anchor="start" >0</text>
<text x="423.0" y="104.6" font-size="9" fill="#262626" text-anchor="start" >-1</text>
<text transform="translate(442.4,73.3) rotate(-90)" font-size="9.2" fill="#262626" text-anchor="start">R<tspan dy="4.2" font-size="7" stroke="#262626" stroke-width="0.15">t</tspan></text>
<text x="261.5" y="135.5" font-size="9" fill="#262626" text-anchor="end" >2</text>
<text x="261.5" y="153.3" font-size="9" fill="#262626" text-anchor="end" >1</text>
<text x="261.5" y="171.1" font-size="9" fill="#262626" text-anchor="end" >0</text>
<text x="261.5" y="188.9" font-size="9" fill="#262626" text-anchor="end" >-1</text>
<text x="261.5" y="206.7" font-size="9" fill="#262626" text-anchor="end" >-2</text>
<text transform="translate(249.3,165) rotate(-90)" font-size="9.5" fill="#262626" text-anchor="middle">RIC-index</text>
<text x="261.5" y="314.4" font-size="9" fill="#262626" text-anchor="end" >0</text>
<text x="261.5" y="292.1" font-size="9" fill="#262626" text-anchor="end" >5</text>
<text x="261.5" y="269.9" font-size="9" fill="#262626" text-anchor="end" >10</text>
<text x="261.5" y="247.6" font-size="9" fill="#262626" text-anchor="end" >15</text>
<text x="261.5" y="225.4" font-size="9" fill="#262626" text-anchor="end" >20</text>
<text transform="translate(247.8,266) rotate(-90)" font-size="9.5" fill="#262626" text-anchor="middle" font-style="italic">Df</text>
<text x="423.9" y="314.4" font-size="9" fill="#1f1fd0" text-anchor="start" >0</text>
<text x="423.9" y="270.0" font-size="9" fill="#1f1fd0" text-anchor="start" >50</text>
<text x="423.9" y="225.6" font-size="9" fill="#1f1fd0" text-anchor="start" >100</text>
<text transform="translate(448.9,267) rotate(-90)" font-size="9" fill="#1f1fd0" text-anchor="middle">Fully vaccinated (%)</text>
<text x="297.3" y="322.8" font-size="9" fill="#262626" text-anchor="middle" >200</text>
<text x="340.4" y="322.8" font-size="9" fill="#262626" text-anchor="middle" >400</text>
<text x="383.5" y="322.8" font-size="9" fill="#262626" text-anchor="middle" >600</text>
<text x="343.8" y="333.5" font-size="9" fill="#262626" text-anchor="middle" >Time (days)</text>
<text x="338.1" y="36.6" font-size="12.5" fill="#111" stroke="#111" stroke-width="0.25">t<tspan dx="0.5" dy="3.1" font-size="8" stroke-width="0.15">v</tspan></text>
<text x="571.6" y="11.9" font-size="13" fill="#111" text-anchor="middle" >Japan</text>
<text x="493.0" y="29.6" font-size="9.2" fill="#00885a" text-anchor="end" opacity="0.85">10<tspan dy="-4.3" font-size="6.3">4</tspan></text>
<text x="493.0" y="74.0" font-size="9.2" fill="#00885a" text-anchor="end" opacity="0.85">10<tspan dy="-4.3" font-size="6.3">2</tspan></text>
<text x="493.0" y="117.8" font-size="9.2" fill="#00885a" text-anchor="end" opacity="0.85">10<tspan dy="-4.3" font-size="6.3">0</tspan></text>
<text transform="translate(471.3,69) rotate(-90)" font-size="9" fill="#00885a" text-anchor="middle" opacity="0.85">T<tspan dy="4.3" font-size="6.5">d</tspan><tspan dy="-4.3"> (days)</tspan></text>
<text x="653.4000000000001" y="40.8" font-size="9" fill="#262626" text-anchor="start" >3</text>
<text x="653.4000000000001" y="56.8" font-size="9" fill="#262626" text-anchor="start" >2</text>
<text x="653.4000000000001" y="72.7" font-size="9" fill="#262626" text-anchor="start" >1</text>
<text x="653.4000000000001" y="88.7" font-size="9" fill="#262626" text-anchor="start" >0</text>
<text x="653.0000000000001" y="104.6" font-size="9" fill="#262626" text-anchor="start" >-1</text>
<text transform="translate(672.4000000000001,73.3) rotate(-90)" font-size="9.2" fill="#262626" text-anchor="start">R<tspan dy="4.2" font-size="7" stroke="#262626" stroke-width="0.15">t</tspan></text>
<text x="491.3" y="135.5" font-size="9" fill="#262626" text-anchor="end" >2</text>
<text x="491.3" y="153.3" font-size="9" fill="#262626" text-anchor="end" >1</text>
<text x="491.3" y="171.1" font-size="9" fill="#262626" text-anchor="end" >0</text>
<text x="491.3" y="188.9" font-size="9" fill="#262626" text-anchor="end" >-1</text>
<text x="491.3" y="206.7" font-size="9" fill="#262626" text-anchor="end" >-2</text>
<text transform="translate(479.1,165) rotate(-90)" font-size="9.5" fill="#262626" text-anchor="middle">RIC-index</text>
<text x="491.3" y="314.4" font-size="9" fill="#262626" text-anchor="end" >0</text>
<text x="491.3" y="269.9" font-size="9" fill="#262626" text-anchor="end" >0.5</text>
<text x="491.3" y="225.4" font-size="9" fill="#262626" text-anchor="end" >1</text>
<text transform="translate(474.1,266) rotate(-90)" font-size="9.5" fill="#262626" text-anchor="middle" font-style="italic">Df</text>
<text x="653.9000000000001" y="314.4" font-size="9" fill="#1f1fd0" text-anchor="start" >0</text>
<text x="653.9000000000001" y="270.0" font-size="9" fill="#1f1fd0" text-anchor="start" >50</text>
<text x="653.9000000000001" y="225.6" font-size="9" fill="#1f1fd0" text-anchor="start" >100</text>
<text transform="translate(678.9000000000001,267) rotate(-90)" font-size="9" fill="#1f1fd0" text-anchor="middle">Fully vaccinated (%)</text>
<text x="527.3" y="322.8" font-size="9" fill="#262626" text-anchor="middle" >200</text>
<text x="570.4" y="322.8" font-size="9" fill="#262626" text-anchor="middle" >400</text>
<text x="613.5" y="322.8" font-size="9" fill="#262626" text-anchor="middle" >600</text>
<text x="573.6" y="333.5" font-size="9" fill="#262626" text-anchor="middle" >Time (days)</text>
<text x="569.0" y="36.6" font-size="12.5" fill="#111" stroke="#111" stroke-width="0.25">t<tspan dx="0.5" dy="3.1" font-size="8" stroke-width="0.15">v</tspan></text>
<text x="113.9" y="103.9" font-size="10.2" fill="#222" text-anchor="start" font-style="italic" stroke="#222" stroke-width="0.1">alpha</text>
<text x="150.4" y="103.9" font-size="10.2" fill="#222" text-anchor="start" font-style="italic" stroke="#222" stroke-width="0.1">delta</text>
<text x="308.2" y="104.1" font-size="10.4" fill="#222" text-anchor="start" font-style="italic" stroke="#222" stroke-width="0.1">20E</text>
<text x="340.5" y="103.9" font-size="10.2" fill="#222" text-anchor="start" font-style="italic" stroke="#222" stroke-width="0.1">alpha</text>
<text x="376.2" y="103.9" font-size="10.2" fill="#222" text-anchor="start" font-style="italic" stroke="#222" stroke-width="0.1">delta</text>
<text x="581.9" y="103.9" font-size="10.2" fill="#222" text-anchor="start" font-style="italic" stroke="#222" stroke-width="0.1">alpha</text>
<text x="617.9" y="103.9" font-size="10.2" fill="#222" text-anchor="start" font-style="italic" stroke="#222" stroke-width="0.1">delta</text>
</g>
</svg>
</body></html>
